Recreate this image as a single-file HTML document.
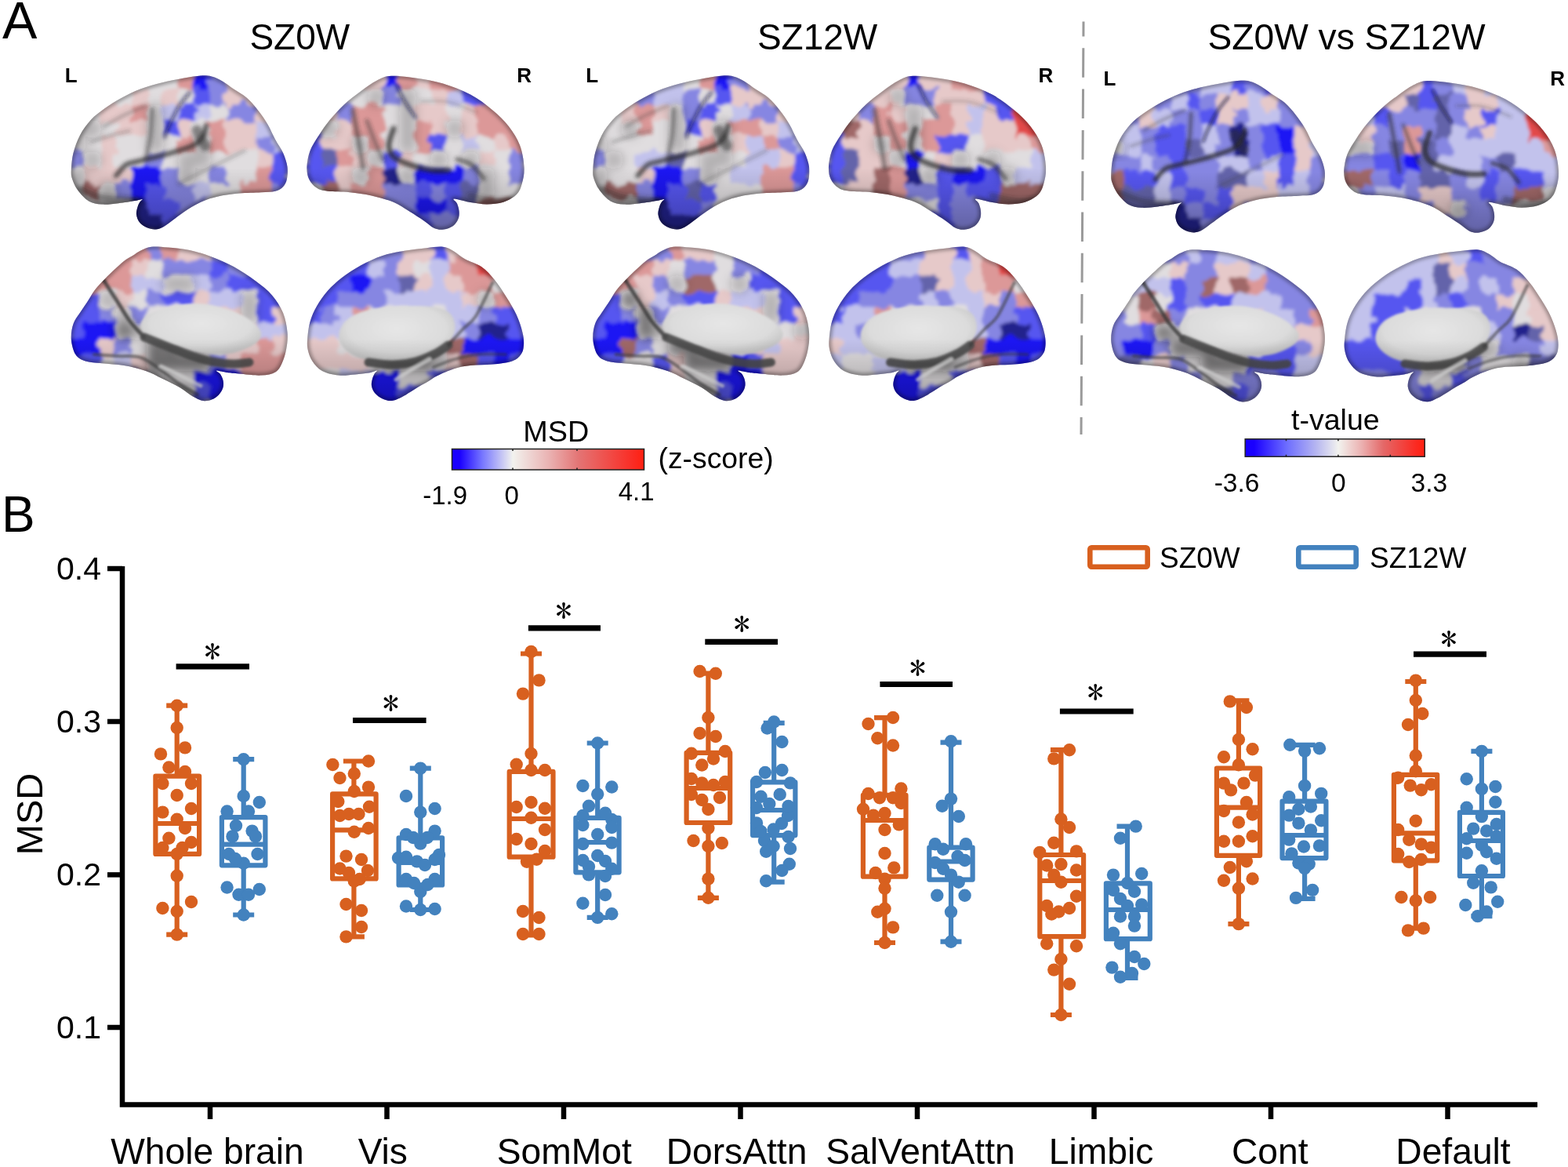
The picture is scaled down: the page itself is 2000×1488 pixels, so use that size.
<!DOCTYPE html>
<html><head><meta charset="utf-8"><title>MSD figure</title>
<style>
html,body{margin:0;padding:0;background:#fff;width:2000px;height:1488px;overflow:hidden}
svg{display:block}
text{font-family:"Liberation Sans",Arial,sans-serif;fill:#000}
</style></head><body>
<svg width="2000" height="1488" viewBox="0 0 2000 1488">
<rect width="2000" height="1488" fill="#fff"/>
<defs>
<clipPath id="cLL"><path d="M90.8 217.2C91.0 211.6 91.7 202.3 93.6 194.8C95.5 187.3 98.3 179.4 102.0 172.4C105.7 165.4 110.9 158.4 116.0 152.8C121.1 147.2 126.3 143.5 132.8 138.8C139.3 134.1 147.5 129.0 155.2 124.8C162.9 120.6 170.4 116.9 179.0 113.6C187.6 110.3 197.7 107.5 207.0 105.2C216.3 102.9 226.8 101.0 235.0 99.6C243.2 98.1 250.2 96.8 256.0 96.5C261.8 96.2 265.3 96.3 270.0 97.5C274.7 98.7 279.3 101.1 284.0 103.8C288.7 106.5 292.9 110.1 298.0 113.6C303.1 117.1 309.7 120.4 314.8 124.8C319.9 129.2 324.4 134.6 328.8 140.2C333.2 145.8 337.7 152.1 341.4 158.4C345.1 164.7 347.9 171.9 351.2 178.0C354.5 184.1 358.4 189.0 361.0 194.8C363.6 200.6 365.8 207.4 366.6 213.0C367.4 218.6 366.8 224.2 365.9 228.4C365.0 232.6 363.4 235.6 361.0 238.2C358.6 240.8 355.9 242.6 351.2 243.8C346.5 245.0 340.7 244.7 333.0 245.2C325.3 245.7 314.3 245.7 305.0 246.6C295.7 247.5 285.2 248.9 277.0 250.8C268.8 252.7 263.0 254.6 256.0 257.8C249.0 261.0 241.0 266.1 235.0 270.0C229.0 273.9 224.5 277.8 220.0 281.0C215.5 284.2 211.7 287.6 208.0 289.5C204.3 291.4 201.5 292.4 198.0 292.5C194.5 292.6 190.3 291.5 187.0 290.0C183.7 288.5 180.2 286.2 178.0 283.5C175.8 280.8 174.4 276.8 174.0 273.5C173.6 270.2 174.8 266.7 175.5 264.0C176.2 261.3 177.5 259.2 178.5 257.5C179.5 255.8 182.6 254.2 181.5 254.0C180.4 253.8 177.1 255.1 172.0 256.0C166.9 256.9 158.0 258.4 151.0 259.2C144.0 260.0 136.3 261.1 130.0 260.6C123.7 260.1 118.3 259.4 113.2 256.4C108.1 253.4 102.7 247.1 99.2 242.4C95.7 237.7 93.6 232.6 92.2 228.4C90.8 224.2 90.6 222.8 90.8 217.2Z"/></clipPath>
<path id="sLL" d="M90.8 217.2C91.0 211.6 91.7 202.3 93.6 194.8C95.5 187.3 98.3 179.4 102.0 172.4C105.7 165.4 110.9 158.4 116.0 152.8C121.1 147.2 126.3 143.5 132.8 138.8C139.3 134.1 147.5 129.0 155.2 124.8C162.9 120.6 170.4 116.9 179.0 113.6C187.6 110.3 197.7 107.5 207.0 105.2C216.3 102.9 226.8 101.0 235.0 99.6C243.2 98.1 250.2 96.8 256.0 96.5C261.8 96.2 265.3 96.3 270.0 97.5C274.7 98.7 279.3 101.1 284.0 103.8C288.7 106.5 292.9 110.1 298.0 113.6C303.1 117.1 309.7 120.4 314.8 124.8C319.9 129.2 324.4 134.6 328.8 140.2C333.2 145.8 337.7 152.1 341.4 158.4C345.1 164.7 347.9 171.9 351.2 178.0C354.5 184.1 358.4 189.0 361.0 194.8C363.6 200.6 365.8 207.4 366.6 213.0C367.4 218.6 366.8 224.2 365.9 228.4C365.0 232.6 363.4 235.6 361.0 238.2C358.6 240.8 355.9 242.6 351.2 243.8C346.5 245.0 340.7 244.7 333.0 245.2C325.3 245.7 314.3 245.7 305.0 246.6C295.7 247.5 285.2 248.9 277.0 250.8C268.8 252.7 263.0 254.6 256.0 257.8C249.0 261.0 241.0 266.1 235.0 270.0C229.0 273.9 224.5 277.8 220.0 281.0C215.5 284.2 211.7 287.6 208.0 289.5C204.3 291.4 201.5 292.4 198.0 292.5C194.5 292.6 190.3 291.5 187.0 290.0C183.7 288.5 180.2 286.2 178.0 283.5C175.8 280.8 174.4 276.8 174.0 273.5C173.6 270.2 174.8 266.7 175.5 264.0C176.2 261.3 177.5 259.2 178.5 257.5C179.5 255.8 182.6 254.2 181.5 254.0C180.4 253.8 177.1 255.1 172.0 256.0C166.9 256.9 158.0 258.4 151.0 259.2C144.0 260.0 136.3 261.1 130.0 260.6C123.7 260.1 118.3 259.4 113.2 256.4C108.1 253.4 102.7 247.1 99.2 242.4C95.7 237.7 93.6 232.6 92.2 228.4C90.8 224.2 90.6 222.8 90.8 217.2Z"/>
<clipPath id="cLR"><path d="M391.4 213.0C391.6 206.9 393.0 198.8 395.6 192.0C398.2 185.2 402.6 178.9 406.8 172.4C411.0 165.9 415.4 159.3 420.8 152.8C426.2 146.3 432.5 139.3 439.0 133.2C445.5 127.1 453.0 121.5 460.0 116.4C467.0 111.3 474.5 105.7 481.0 102.4C487.5 99.1 491.0 97.3 499.2 96.8C507.4 96.3 519.0 98.0 530.0 99.6C541.0 101.2 553.3 103.1 565.0 106.6C576.7 110.1 589.5 115.0 600.0 120.6C610.5 126.2 619.8 133.4 628.0 140.2C636.2 147.0 643.2 153.7 649.0 161.2C654.8 168.7 659.7 176.4 663.0 185.0C666.3 193.6 668.1 204.8 668.6 213.0C669.1 221.2 667.4 228.2 665.8 234.0C664.2 239.8 662.8 244.0 658.8 248.0C654.8 252.0 648.3 255.7 642.0 257.8C635.7 259.9 628.0 260.4 621.0 260.4C614.0 260.4 607.0 259.1 600.0 258.0C593.0 256.9 581.8 253.2 579.0 253.5C576.2 253.8 581.9 256.9 583.0 259.5C584.1 262.1 585.2 265.8 585.5 269.0C585.8 272.2 585.8 275.8 584.5 279.0C583.2 282.2 581.1 285.8 578.0 288.0C574.9 290.2 570.0 292.0 566.0 292.5C562.0 293.0 558.3 292.9 554.0 291.0C549.7 289.1 545.2 284.5 540.0 281.0C534.8 277.5 529.3 273.9 523.0 270.0C516.7 266.1 510.2 261.2 502.0 257.8C493.8 254.4 483.3 251.5 474.0 249.4C464.7 247.3 455.3 246.1 446.0 245.2C436.7 244.3 425.0 244.7 418.0 243.8C411.0 242.9 408.0 242.2 404.0 239.6C400.0 237.0 396.3 232.8 394.2 228.4C392.1 224.0 391.2 219.1 391.4 213.0Z"/></clipPath>
<path id="sLR" d="M391.4 213.0C391.6 206.9 393.0 198.8 395.6 192.0C398.2 185.2 402.6 178.9 406.8 172.4C411.0 165.9 415.4 159.3 420.8 152.8C426.2 146.3 432.5 139.3 439.0 133.2C445.5 127.1 453.0 121.5 460.0 116.4C467.0 111.3 474.5 105.7 481.0 102.4C487.5 99.1 491.0 97.3 499.2 96.8C507.4 96.3 519.0 98.0 530.0 99.6C541.0 101.2 553.3 103.1 565.0 106.6C576.7 110.1 589.5 115.0 600.0 120.6C610.5 126.2 619.8 133.4 628.0 140.2C636.2 147.0 643.2 153.7 649.0 161.2C654.8 168.7 659.7 176.4 663.0 185.0C666.3 193.6 668.1 204.8 668.6 213.0C669.1 221.2 667.4 228.2 665.8 234.0C664.2 239.8 662.8 244.0 658.8 248.0C654.8 252.0 648.3 255.7 642.0 257.8C635.7 259.9 628.0 260.4 621.0 260.4C614.0 260.4 607.0 259.1 600.0 258.0C593.0 256.9 581.8 253.2 579.0 253.5C576.2 253.8 581.9 256.9 583.0 259.5C584.1 262.1 585.2 265.8 585.5 269.0C585.8 272.2 585.8 275.8 584.5 279.0C583.2 282.2 581.1 285.8 578.0 288.0C574.9 290.2 570.0 292.0 566.0 292.5C562.0 293.0 558.3 292.9 554.0 291.0C549.7 289.1 545.2 284.5 540.0 281.0C534.8 277.5 529.3 273.9 523.0 270.0C516.7 266.1 510.2 261.2 502.0 257.8C493.8 254.4 483.3 251.5 474.0 249.4C464.7 247.3 455.3 246.1 446.0 245.2C436.7 244.3 425.0 244.7 418.0 243.8C411.0 242.9 408.0 242.2 404.0 239.6C400.0 237.0 396.3 232.8 394.2 228.4C392.1 224.0 391.2 219.1 391.4 213.0Z"/>
<clipPath id="cML"><path d="M90.8 432.4C90.3 425.9 91.7 418.4 93.6 412.8C95.5 407.2 98.7 403.9 102.0 398.8C105.3 393.7 110.2 386.7 113.2 382.0C116.2 377.3 117.4 374.5 120.2 370.8C123.0 367.1 126.0 363.8 130.0 359.6C134.0 355.4 139.3 350.0 144.0 345.6C148.7 341.2 153.8 336.3 158.0 333.0C162.2 329.7 165.7 328.2 169.2 326.0C172.7 323.8 175.0 321.6 179.0 319.7C183.0 317.8 187.2 315.5 193.0 314.8C198.8 314.1 205.8 314.8 214.0 315.5C222.2 316.2 232.7 317.0 242.0 319.0C251.3 321.0 260.7 323.9 270.0 327.4C279.3 330.9 288.7 334.9 298.0 340.0C307.3 345.1 317.8 352.1 326.0 358.2C334.2 364.3 341.2 369.6 347.0 376.4C352.8 383.2 357.7 390.9 361.0 398.8C364.3 406.7 365.9 416.3 366.6 424.0C367.3 431.7 366.4 438.5 365.2 445.0C364.0 451.5 361.9 458.3 359.6 463.2C357.3 468.1 355.6 471.8 351.2 474.4C346.8 477.0 340.7 478.2 333.0 478.6C325.3 479.0 312.2 477.1 305.0 476.5C297.8 475.9 294.8 475.7 290.0 475.0C285.2 474.3 277.5 472.2 276.0 472.5C274.5 472.8 279.6 474.9 281.0 477.0C282.4 479.1 283.9 482.2 284.5 485.0C285.1 487.8 285.4 490.9 284.5 494.0C283.6 497.1 281.4 500.9 279.0 503.5C276.6 506.1 273.3 508.2 270.0 509.5C266.7 510.8 263.0 511.7 259.0 511.0C255.0 510.3 250.8 508.2 246.0 505.5C241.2 502.8 236.5 498.3 230.0 494.5C223.5 490.7 214.3 486.4 207.0 482.8C199.7 479.2 194.2 475.8 186.0 473.0C177.8 470.2 167.3 467.6 158.0 466.0C148.7 464.4 138.2 464.1 130.0 463.2C121.8 462.3 114.6 462.3 109.0 460.4C103.4 458.5 99.4 456.7 96.4 452.0C93.4 447.3 91.3 438.9 90.8 432.4Z"/></clipPath>
<path id="sML" d="M90.8 432.4C90.3 425.9 91.7 418.4 93.6 412.8C95.5 407.2 98.7 403.9 102.0 398.8C105.3 393.7 110.2 386.7 113.2 382.0C116.2 377.3 117.4 374.5 120.2 370.8C123.0 367.1 126.0 363.8 130.0 359.6C134.0 355.4 139.3 350.0 144.0 345.6C148.7 341.2 153.8 336.3 158.0 333.0C162.2 329.7 165.7 328.2 169.2 326.0C172.7 323.8 175.0 321.6 179.0 319.7C183.0 317.8 187.2 315.5 193.0 314.8C198.8 314.1 205.8 314.8 214.0 315.5C222.2 316.2 232.7 317.0 242.0 319.0C251.3 321.0 260.7 323.9 270.0 327.4C279.3 330.9 288.7 334.9 298.0 340.0C307.3 345.1 317.8 352.1 326.0 358.2C334.2 364.3 341.2 369.6 347.0 376.4C352.8 383.2 357.7 390.9 361.0 398.8C364.3 406.7 365.9 416.3 366.6 424.0C367.3 431.7 366.4 438.5 365.2 445.0C364.0 451.5 361.9 458.3 359.6 463.2C357.3 468.1 355.6 471.8 351.2 474.4C346.8 477.0 340.7 478.2 333.0 478.6C325.3 479.0 312.2 477.1 305.0 476.5C297.8 475.9 294.8 475.7 290.0 475.0C285.2 474.3 277.5 472.2 276.0 472.5C274.5 472.8 279.6 474.9 281.0 477.0C282.4 479.1 283.9 482.2 284.5 485.0C285.1 487.8 285.4 490.9 284.5 494.0C283.6 497.1 281.4 500.9 279.0 503.5C276.6 506.1 273.3 508.2 270.0 509.5C266.7 510.8 263.0 511.7 259.0 511.0C255.0 510.3 250.8 508.2 246.0 505.5C241.2 502.8 236.5 498.3 230.0 494.5C223.5 490.7 214.3 486.4 207.0 482.8C199.7 479.2 194.2 475.8 186.0 473.0C177.8 470.2 167.3 467.6 158.0 466.0C148.7 464.4 138.2 464.1 130.0 463.2C121.8 462.3 114.6 462.3 109.0 460.4C103.4 458.5 99.4 456.7 96.4 452.0C93.4 447.3 91.3 438.9 90.8 432.4Z"/>
<clipPath id="cMR"><path d="M392.1 432.4C392.6 426.3 393.6 417.0 395.6 410.0C397.6 403.0 400.3 396.9 404.0 390.4C407.7 383.9 412.6 376.9 418.0 370.8C423.4 364.7 429.2 359.4 436.2 354.0C443.2 348.6 451.4 343.3 460.0 338.6C468.6 333.9 478.7 329.1 488.0 326.0C497.3 322.9 506.7 321.3 516.0 319.7C525.3 318.1 535.8 317.0 544.0 316.2C552.2 315.4 559.2 314.1 565.0 314.8C570.8 315.5 574.3 317.8 579.0 320.4C583.7 323.0 587.2 326.9 593.0 330.2C598.8 333.5 607.7 335.6 614.0 340.0C620.3 344.4 625.4 350.3 630.8 356.8C636.2 363.3 641.5 371.7 646.2 379.2C650.9 386.7 655.4 394.1 658.8 401.6C662.2 409.1 665.0 417.5 666.5 424.0C668.0 430.5 668.4 436.1 668.0 440.8C667.6 445.5 666.9 448.7 664.4 452.0C661.9 455.3 659.3 458.3 653.2 460.4C647.1 462.5 636.9 463.7 628.0 464.6C619.1 465.5 608.2 465.1 600.0 466.0C591.8 466.9 586.0 468.0 579.0 470.2C572.0 472.4 563.7 476.2 558.0 479.0C552.3 481.8 548.8 484.8 545.0 487.0C541.2 489.2 538.7 490.3 535.0 492.5C531.3 494.7 526.7 497.8 523.0 500.0C519.3 502.2 516.8 504.2 513.0 506.0C509.2 507.8 504.2 510.6 500.0 511.0C495.8 511.4 491.7 510.2 488.0 508.5C484.3 506.8 480.3 503.8 478.0 501.0C475.7 498.2 474.5 495.0 474.0 492.0C473.5 489.0 474.3 485.7 475.0 483.0C475.7 480.3 477.0 477.8 478.0 476.0C479.0 474.2 482.3 472.6 481.0 472.5C479.7 472.4 474.7 474.7 470.0 475.5C465.3 476.3 459.3 477.0 453.0 477.5C446.7 478.0 439.0 479.4 432.0 478.6C425.0 477.9 416.6 476.0 411.0 473.0C405.4 470.0 401.4 464.8 398.4 460.4C395.4 456.0 393.9 451.1 392.8 446.4C391.8 441.7 391.6 438.5 392.1 432.4Z"/></clipPath>
<path id="sMR" d="M392.1 432.4C392.6 426.3 393.6 417.0 395.6 410.0C397.6 403.0 400.3 396.9 404.0 390.4C407.7 383.9 412.6 376.9 418.0 370.8C423.4 364.7 429.2 359.4 436.2 354.0C443.2 348.6 451.4 343.3 460.0 338.6C468.6 333.9 478.7 329.1 488.0 326.0C497.3 322.9 506.7 321.3 516.0 319.7C525.3 318.1 535.8 317.0 544.0 316.2C552.2 315.4 559.2 314.1 565.0 314.8C570.8 315.5 574.3 317.8 579.0 320.4C583.7 323.0 587.2 326.9 593.0 330.2C598.8 333.5 607.7 335.6 614.0 340.0C620.3 344.4 625.4 350.3 630.8 356.8C636.2 363.3 641.5 371.7 646.2 379.2C650.9 386.7 655.4 394.1 658.8 401.6C662.2 409.1 665.0 417.5 666.5 424.0C668.0 430.5 668.4 436.1 668.0 440.8C667.6 445.5 666.9 448.7 664.4 452.0C661.9 455.3 659.3 458.3 653.2 460.4C647.1 462.5 636.9 463.7 628.0 464.6C619.1 465.5 608.2 465.1 600.0 466.0C591.8 466.9 586.0 468.0 579.0 470.2C572.0 472.4 563.7 476.2 558.0 479.0C552.3 481.8 548.8 484.8 545.0 487.0C541.2 489.2 538.7 490.3 535.0 492.5C531.3 494.7 526.7 497.8 523.0 500.0C519.3 502.2 516.8 504.2 513.0 506.0C509.2 507.8 504.2 510.6 500.0 511.0C495.8 511.4 491.7 510.2 488.0 508.5C484.3 506.8 480.3 503.8 478.0 501.0C475.7 498.2 474.5 495.0 474.0 492.0C473.5 489.0 474.3 485.7 475.0 483.0C475.7 480.3 477.0 477.8 478.0 476.0C479.0 474.2 482.3 472.6 481.0 472.5C479.7 472.4 474.7 474.7 470.0 475.5C465.3 476.3 459.3 477.0 453.0 477.5C446.7 478.0 439.0 479.4 432.0 478.6C425.0 477.9 416.6 476.0 411.0 473.0C405.4 470.0 401.4 464.8 398.4 460.4C395.4 456.0 393.9 451.1 392.8 446.4C391.8 441.7 391.6 438.5 392.1 432.4Z"/>
<path id="wML" d="M180.0 414.0C180.3 409.8 182.2 405.7 188.0 402.0C193.8 398.3 206.0 394.5 215.0 392.0C224.0 389.5 232.8 387.5 242.0 387.0C251.2 386.5 260.7 387.3 270.0 389.0C279.3 390.7 289.7 393.7 298.0 397.0C306.3 400.3 314.2 404.5 320.0 409.0C325.8 413.5 332.0 419.2 333.0 424.0C334.0 428.8 331.8 433.7 326.0 438.0C320.2 442.3 307.3 447.8 298.0 450.0C288.7 452.2 279.3 451.7 270.0 451.0C260.7 450.3 252.0 448.3 242.0 446.0C232.0 443.7 219.3 440.2 210.0 437.0C200.7 433.8 191.0 430.8 186.0 427.0C181.0 423.2 179.7 418.2 180.0 414.0Z"/>
<path id="wMR" d="M432.0 428.0C432.3 422.5 435.3 415.0 440.0 410.0C444.7 405.0 451.7 401.0 460.0 398.0C468.3 395.0 480.0 393.3 490.0 392.0C500.0 390.7 510.0 390.2 520.0 390.0C530.0 389.8 541.3 389.7 550.0 391.0C558.7 392.3 567.0 394.5 572.0 398.0C577.0 401.5 579.0 407.0 580.0 412.0C581.0 417.0 580.3 422.8 578.0 428.0C575.7 433.2 571.5 438.5 566.0 443.0C560.5 447.5 553.5 451.8 545.0 455.0C536.5 458.2 525.8 461.0 515.0 462.0C504.2 463.0 490.0 462.2 480.0 461.0C470.0 459.8 462.0 458.0 455.0 455.0C448.0 452.0 441.8 447.5 438.0 443.0C434.2 438.5 431.7 433.5 432.0 428.0Z"/>
<filter id="bl" x="-10%" y="-10%" width="120%" height="120%"><feTurbulence type="fractalNoise" baseFrequency="0.06" numOctaves="2" seed="3" result="t"/><feDisplacementMap in="SourceGraphic" in2="t" scale="18" xChannelSelector="R" yChannelSelector="G" result="d"/><feGaussianBlur in="d" stdDeviation="2.2"/></filter>
<filter id="bl2" x="-10%" y="-10%" width="120%" height="120%"><feGaussianBlur stdDeviation="2.5"/></filter>
<filter id="bl3" x="-20%" y="-20%" width="140%" height="140%"><feGaussianBlur stdDeviation="1.6"/></filter><filter id="bl4" x="-20%" y="-20%" width="140%" height="140%"><feGaussianBlur stdDeviation="2.4"/></filter>
<radialGradient id="mwg" cx="0.5" cy="0.4" r="0.6"><stop offset="0" stop-color="#e6e6e6"/><stop offset="0.7" stop-color="#dcdcdc"/><stop offset="1" stop-color="#c4c4c4"/></radialGradient>
<linearGradient id="shd" x1="0" y1="0" x2="0" y2="1"><stop offset="0" stop-color="#000" stop-opacity="0"/><stop offset="0.6" stop-color="#000" stop-opacity="0"/><stop offset="1" stop-color="#000" stop-opacity="0.28"/></linearGradient>
<filter id="bl5" x="-20%" y="-20%" width="140%" height="140%"><feGaussianBlur stdDeviation="6.5"/></filter>
</defs>
<g transform="translate(0 0)">
<g clip-path="url(#cLL)">
<rect x="88" y="94" width="280" height="200" fill="#d8d2d4"/>
<g filter="url(#bl)"><rect x="87.5" y="93.5" width="141" height="21" fill="#e0dddf"/><rect x="227.5" y="93.5" width="21" height="21" fill="#dc9898"/><rect x="247.5" y="93.5" width="21" height="21" fill="#1c16f4"/><rect x="267.5" y="93.5" width="21" height="21" fill="#8686e2"/><rect x="287.5" y="93.5" width="81" height="21" fill="#e6c9c9"/><rect x="87.5" y="113.5" width="81" height="21" fill="#e0dddf"/><rect x="167.5" y="113.5" width="21" height="21" fill="#e6c9c9"/><rect x="187.5" y="113.5" width="21" height="21" fill="#e0dddf"/><rect x="207.5" y="113.5" width="21" height="21" fill="#e6c9c9"/><rect x="227.5" y="113.5" width="21" height="21" fill="#e0dddf"/><rect x="247.5" y="113.5" width="21" height="21" fill="#5656f0"/><rect x="267.5" y="113.5" width="21" height="21" fill="#8686e2"/><rect x="287.5" y="113.5" width="81" height="21" fill="#e6c9c9"/><rect x="87.5" y="133.5" width="41" height="21" fill="#e0dddf"/><rect x="127.5" y="133.5" width="41" height="21" fill="#e6c9c9"/><rect x="167.5" y="133.5" width="21" height="21" fill="#dc9898"/><rect x="187.5" y="133.5" width="21" height="21" fill="#e0dddf"/><rect x="207.5" y="133.5" width="21" height="21" fill="#c2c2ec"/><rect x="227.5" y="133.5" width="21" height="21" fill="#5656f0"/><rect x="247.5" y="133.5" width="21" height="21" fill="#c2c2ec"/><rect x="267.5" y="133.5" width="21" height="21" fill="#e0dddf"/><rect x="287.5" y="133.5" width="41" height="21" fill="#8686e2"/><rect x="327.5" y="133.5" width="41" height="21" fill="#e6c9c9"/><rect x="87.5" y="153.5" width="61" height="21" fill="#e0dddf"/><rect x="147.5" y="153.5" width="41" height="21" fill="#e6c9c9"/><rect x="187.5" y="153.5" width="21" height="21" fill="#e0dddf"/><rect x="207.5" y="153.5" width="21" height="21" fill="#5656f0"/><rect x="227.5" y="153.5" width="21" height="21" fill="#e6c9c9"/><rect x="247.5" y="153.5" width="21" height="21" fill="#e0dddf"/><rect x="267.5" y="153.5" width="21" height="21" fill="#dc9898"/><rect x="287.5" y="153.5" width="41" height="21" fill="#e6c9c9"/><rect x="327.5" y="153.5" width="41" height="21" fill="#c2c2ec"/><rect x="87.5" y="173.5" width="41" height="21" fill="#e0dddf"/><rect x="127.5" y="173.5" width="21" height="21" fill="#e6c9c9"/><rect x="147.5" y="173.5" width="81" height="21" fill="#e0dddf"/><rect x="227.5" y="173.5" width="21" height="21" fill="#dc9898"/><rect x="247.5" y="173.5" width="21" height="21" fill="#e0dddf"/><rect x="267.5" y="173.5" width="21" height="21" fill="#dc9898"/><rect x="287.5" y="173.5" width="41" height="21" fill="#e6c9c9"/><rect x="327.5" y="173.5" width="21" height="21" fill="#8686e2"/><rect x="347.5" y="173.5" width="21" height="21" fill="#c2c2ec"/><rect x="87.5" y="193.5" width="21" height="21" fill="#8686e2"/><rect x="107.5" y="193.5" width="21" height="21" fill="#e0dddf"/><rect x="127.5" y="193.5" width="21" height="21" fill="#e6c9c9"/><rect x="147.5" y="193.5" width="41" height="21" fill="#e0dddf"/><rect x="187.5" y="193.5" width="21" height="21" fill="#8686e2"/><rect x="207.5" y="193.5" width="121" height="21" fill="#e0dddf"/><rect x="327.5" y="193.5" width="21" height="21" fill="#e6c9c9"/><rect x="347.5" y="193.5" width="21" height="21" fill="#5656f0"/><rect x="87.5" y="213.5" width="21" height="21" fill="#e0dddf"/><rect x="107.5" y="213.5" width="61" height="21" fill="#e6c9c9"/><rect x="167.5" y="213.5" width="41" height="21" fill="#1c16f4"/><rect x="207.5" y="213.5" width="21" height="21" fill="#8686e2"/><rect x="227.5" y="213.5" width="41" height="21" fill="#e0dddf"/><rect x="267.5" y="213.5" width="21" height="21" fill="#8686e2"/><rect x="287.5" y="213.5" width="41" height="21" fill="#e0dddf"/><rect x="327.5" y="213.5" width="21" height="21" fill="#dc9898"/><rect x="347.5" y="213.5" width="21" height="21" fill="#5656f0"/><rect x="87.5" y="233.5" width="21" height="21" fill="#e0dddf"/><rect x="107.5" y="233.5" width="21" height="21" fill="#a06868"/><rect x="127.5" y="233.5" width="21" height="21" fill="#e0dddf"/><rect x="147.5" y="233.5" width="21" height="21" fill="#8686e2"/><rect x="167.5" y="233.5" width="21" height="21" fill="#1c16f4"/><rect x="187.5" y="233.5" width="21" height="21" fill="#5656f0"/><rect x="207.5" y="233.5" width="41" height="21" fill="#8686e2"/><rect x="247.5" y="233.5" width="21" height="21" fill="#c2c2ec"/><rect x="267.5" y="233.5" width="41" height="21" fill="#e0dddf"/><rect x="307.5" y="233.5" width="41" height="21" fill="#dc9898"/><rect x="347.5" y="233.5" width="21" height="21" fill="#8686e2"/><rect x="87.5" y="253.5" width="81" height="21" fill="#e0dddf"/><rect x="167.5" y="253.5" width="21" height="21" fill="#24248c"/><rect x="187.5" y="253.5" width="41" height="21" fill="#5656f0"/><rect x="227.5" y="253.5" width="41" height="21" fill="#8686e2"/><rect x="267.5" y="253.5" width="41" height="21" fill="#e0dddf"/><rect x="307.5" y="253.5" width="41" height="21" fill="#dc9898"/><rect x="347.5" y="253.5" width="21" height="21" fill="#8686e2"/><rect x="87.5" y="273.5" width="61" height="21" fill="#e0dddf"/><rect x="147.5" y="273.5" width="61" height="21" fill="#24248c"/><rect x="207.5" y="273.5" width="61" height="21" fill="#5656f0"/><rect x="267.5" y="273.5" width="41" height="21" fill="#e0dddf"/><rect x="307.5" y="273.5" width="41" height="21" fill="#dc9898"/><rect x="347.5" y="273.5" width="21" height="21" fill="#8686e2"/></g>
<g fill="#1a1a1a" filter="url(#bl5)"><circle cx="198" cy="144" r="12" fill-opacity="0.22"/><circle cx="98" cy="164" r="12" fill-opacity="0.22"/><circle cx="118" cy="164" r="12" fill-opacity="0.22"/><circle cx="198" cy="164" r="12" fill-opacity="0.22"/><circle cx="98" cy="184" r="12" fill-opacity="0.22"/><circle cx="198" cy="184" r="12" fill-opacity="0.22"/><circle cx="258" cy="184" r="12" fill-opacity="0.22"/><circle cx="118" cy="204" r="12" fill-opacity="0.22"/><circle cx="238" cy="204" r="12" fill-opacity="0.22"/><circle cx="258" cy="204" r="12" fill-opacity="0.22"/><circle cx="98" cy="224" r="12" fill-opacity="0.22"/><circle cx="238" cy="224" r="12" fill-opacity="0.22"/><circle cx="98" cy="244" r="12" fill-opacity="0.22"/><circle cx="138" cy="244" r="12" fill-opacity="0.22"/><circle cx="98" cy="264" r="12" fill-opacity="0.22"/><circle cx="118" cy="264" r="12" fill-opacity="0.22"/><circle cx="138" cy="264" r="12" fill-opacity="0.22"/><circle cx="158" cy="264" r="12" fill-opacity="0.22"/><circle cx="278" cy="264" r="12" fill-opacity="0.22"/><circle cx="298" cy="264" r="12" fill-opacity="0.22"/><circle cx="98" cy="284" r="12" fill-opacity="0.22"/><circle cx="118" cy="284" r="12" fill-opacity="0.22"/><circle cx="138" cy="284" r="12" fill-opacity="0.22"/><circle cx="278" cy="284" r="12" fill-opacity="0.22"/><circle cx="298" cy="284" r="12" fill-opacity="0.22"/></g>
<g fill="none" stroke-linecap="round" filter="url(#bl4)"><path d="M148.0 224.0C150.2 221.7 156.5 213.0 161.0 210.0C165.5 207.0 168.5 207.7 175.0 206.0C181.5 204.3 191.2 202.3 200.0 200.0C208.8 197.7 219.8 194.7 228.0 192.0C236.2 189.3 243.7 187.3 249.0 184.0C254.3 180.7 257.7 176.0 260.0 172.0C262.3 168.0 262.5 162.0 263.0 160.0" stroke="#2a282a" stroke-opacity="0.75" stroke-width="6"/><path d="M251.0 166.0C252.0 168.0 255.2 174.7 257.0 178.0C258.8 181.3 261.2 184.7 262.0 186.0" stroke="#2a282a" stroke-opacity="0.5" stroke-width="13"/><path d="M194.0 139.0C193.7 144.5 193.3 161.3 192.0 172.0C190.7 182.7 187.0 197.8 186.0 203.0" stroke="#2e2c2e" stroke-opacity="0.5" stroke-width="5"/><path d="M242.0 118.0C239.7 121.0 232.7 128.3 228.0 136.0C223.3 143.7 217.0 157.5 214.0 164.0C211.0 170.5 210.7 173.2 210.0 175.0" stroke="#141440" stroke-opacity="0.7" stroke-width="3.5"/><path d="M133.0 161.0C137.2 158.7 149.2 151.3 158.0 147.0C166.8 142.7 181.3 137.0 186.0 135.0" stroke="#3c3a3c" stroke-opacity="0.35" stroke-width="4"/><path d="M116.0 181.0C120.7 179.5 135.8 174.3 144.0 172.0C152.2 169.7 161.5 167.8 165.0 167.0" stroke="#3c3a3c" stroke-opacity="0.3" stroke-width="4"/><path d="M228.0 234.0C235.0 230.5 256.0 220.0 270.0 213.0C284.0 206.0 305.0 195.5 312.0 192.0" stroke="#3c3a3c" stroke-opacity="0.3" stroke-width="4"/><path d="M102.0 241.0C106.7 242.8 118.3 249.7 130.0 252.0C141.7 254.3 165.0 254.5 172.0 255.0" stroke="#2e2c2e" stroke-opacity="0.35" stroke-width="8"/></g>
<rect x="88" y="94" width="280" height="200" fill="url(#shd)"/>
<use href="#sLL" fill="none" stroke="#000" stroke-opacity="0.4" stroke-width="5" filter="url(#bl2)"/>
</g>
<g clip-path="url(#cLR)">
<rect x="390" y="94" width="280" height="200" fill="#d8d2d4"/>
<g filter="url(#bl)"><rect x="389.5" y="93.5" width="101" height="21" fill="#e6c9c9"/><rect x="489.5" y="93.5" width="21" height="21" fill="#1c16f4"/><rect x="509.5" y="93.5" width="21" height="21" fill="#dc9898"/><rect x="529.5" y="93.5" width="21" height="21" fill="#e6c9c9"/><rect x="549.5" y="93.5" width="61" height="21" fill="#dc9898"/><rect x="609.5" y="93.5" width="61" height="21" fill="#5656f0"/><rect x="389.5" y="113.5" width="41" height="21" fill="#e6c9c9"/><rect x="429.5" y="113.5" width="61" height="21" fill="#e0dddf"/><rect x="489.5" y="113.5" width="21" height="21" fill="#8686e2"/><rect x="509.5" y="113.5" width="41" height="21" fill="#e0dddf"/><rect x="549.5" y="113.5" width="21" height="21" fill="#e6c9c9"/><rect x="569.5" y="113.5" width="21" height="21" fill="#c2c2ec"/><rect x="589.5" y="113.5" width="81" height="21" fill="#5656f0"/><rect x="389.5" y="133.5" width="41" height="21" fill="#e6c9c9"/><rect x="429.5" y="133.5" width="21" height="21" fill="#8686e2"/><rect x="449.5" y="133.5" width="41" height="21" fill="#dc9898"/><rect x="489.5" y="133.5" width="41" height="21" fill="#e0dddf"/><rect x="529.5" y="133.5" width="41" height="21" fill="#e6c9c9"/><rect x="569.5" y="133.5" width="21" height="21" fill="#e0dddf"/><rect x="589.5" y="133.5" width="21" height="21" fill="#e6c9c9"/><rect x="609.5" y="133.5" width="61" height="21" fill="#dc9898"/><rect x="389.5" y="153.5" width="41" height="21" fill="#e0dddf"/><rect x="429.5" y="153.5" width="21" height="21" fill="#e6c9c9"/><rect x="449.5" y="153.5" width="41" height="21" fill="#dc9898"/><rect x="489.5" y="153.5" width="41" height="21" fill="#e0dddf"/><rect x="529.5" y="153.5" width="21" height="21" fill="#dc9898"/><rect x="549.5" y="153.5" width="21" height="21" fill="#e6c9c9"/><rect x="569.5" y="153.5" width="21" height="21" fill="#e0dddf"/><rect x="589.5" y="153.5" width="21" height="21" fill="#e6c9c9"/><rect x="609.5" y="153.5" width="61" height="21" fill="#dc9898"/><rect x="389.5" y="173.5" width="21" height="21" fill="#5656f0"/><rect x="409.5" y="173.5" width="41" height="21" fill="#e6c9c9"/><rect x="449.5" y="173.5" width="21" height="21" fill="#e0dddf"/><rect x="469.5" y="173.5" width="21" height="21" fill="#dc9898"/><rect x="489.5" y="173.5" width="41" height="21" fill="#e0dddf"/><rect x="529.5" y="173.5" width="21" height="21" fill="#dc9898"/><rect x="549.5" y="173.5" width="21" height="21" fill="#5656f0"/><rect x="569.5" y="173.5" width="21" height="21" fill="#e0dddf"/><rect x="589.5" y="173.5" width="21" height="21" fill="#c2c2ec"/><rect x="609.5" y="173.5" width="21" height="21" fill="#e0dddf"/><rect x="629.5" y="173.5" width="21" height="21" fill="#e6c9c9"/><rect x="649.5" y="173.5" width="21" height="21" fill="#dc9898"/><rect x="389.5" y="193.5" width="21" height="21" fill="#5656f0"/><rect x="409.5" y="193.5" width="21" height="21" fill="#6464aa"/><rect x="429.5" y="193.5" width="21" height="21" fill="#dc9898"/><rect x="449.5" y="193.5" width="21" height="21" fill="#e6c9c9"/><rect x="469.5" y="193.5" width="21" height="21" fill="#e0dddf"/><rect x="489.5" y="193.5" width="21" height="21" fill="#5656f0"/><rect x="509.5" y="193.5" width="21" height="21" fill="#e6c9c9"/><rect x="529.5" y="193.5" width="81" height="21" fill="#e0dddf"/><rect x="609.5" y="193.5" width="21" height="21" fill="#e6c9c9"/><rect x="629.5" y="193.5" width="21" height="21" fill="#e0dddf"/><rect x="649.5" y="193.5" width="21" height="21" fill="#8686e2"/><rect x="389.5" y="213.5" width="41" height="21" fill="#5656f0"/><rect x="429.5" y="213.5" width="21" height="21" fill="#e6c9c9"/><rect x="449.5" y="213.5" width="21" height="21" fill="#e0dddf"/><rect x="469.5" y="213.5" width="21" height="21" fill="#dc9898"/><rect x="489.5" y="213.5" width="21" height="21" fill="#24248c"/><rect x="509.5" y="213.5" width="21" height="21" fill="#e0dddf"/><rect x="529.5" y="213.5" width="61" height="21" fill="#1c16f4"/><rect x="589.5" y="213.5" width="21" height="21" fill="#8686e2"/><rect x="609.5" y="213.5" width="41" height="21" fill="#e0dddf"/><rect x="649.5" y="213.5" width="21" height="21" fill="#8686e2"/><rect x="389.5" y="233.5" width="21" height="21" fill="#e0dddf"/><rect x="409.5" y="233.5" width="21" height="21" fill="#a06868"/><rect x="429.5" y="233.5" width="21" height="21" fill="#e6c9c9"/><rect x="449.5" y="233.5" width="41" height="21" fill="#dc9898"/><rect x="489.5" y="233.5" width="41" height="21" fill="#8686e2"/><rect x="529.5" y="233.5" width="21" height="21" fill="#5656f0"/><rect x="549.5" y="233.5" width="21" height="21" fill="#8686e2"/><rect x="569.5" y="233.5" width="21" height="21" fill="#5656f0"/><rect x="589.5" y="233.5" width="21" height="21" fill="#6464aa"/><rect x="609.5" y="233.5" width="61" height="21" fill="#e0dddf"/><rect x="389.5" y="253.5" width="21" height="21" fill="#e0dddf"/><rect x="409.5" y="253.5" width="21" height="21" fill="#a06868"/><rect x="429.5" y="253.5" width="61" height="21" fill="#6464aa"/><rect x="489.5" y="253.5" width="41" height="21" fill="#8686e2"/><rect x="529.5" y="253.5" width="41" height="21" fill="#1c16f4"/><rect x="569.5" y="253.5" width="21" height="21" fill="#5656f0"/><rect x="589.5" y="253.5" width="21" height="21" fill="#6464aa"/><rect x="609.5" y="253.5" width="61" height="21" fill="#a06868"/><rect x="389.5" y="273.5" width="21" height="21" fill="#e0dddf"/><rect x="409.5" y="273.5" width="21" height="21" fill="#a06868"/><rect x="429.5" y="273.5" width="61" height="21" fill="#6464aa"/><rect x="489.5" y="273.5" width="21" height="21" fill="#8686e2"/><rect x="509.5" y="273.5" width="41" height="21" fill="#5656f0"/><rect x="549.5" y="273.5" width="61" height="21" fill="#8686e2"/><rect x="609.5" y="273.5" width="61" height="21" fill="#a06868"/></g>
<g fill="#1a1a1a" filter="url(#bl5)"><circle cx="480" cy="124" r="12" fill-opacity="0.22"/><circle cx="520" cy="124" r="12" fill-opacity="0.22"/><circle cx="520" cy="144" r="12" fill-opacity="0.22"/><circle cx="400" cy="164" r="12" fill-opacity="0.22"/><circle cx="420" cy="164" r="12" fill-opacity="0.22"/><circle cx="520" cy="164" r="12" fill-opacity="0.22"/><circle cx="580" cy="164" r="12" fill-opacity="0.22"/><circle cx="460" cy="184" r="12" fill-opacity="0.22"/><circle cx="520" cy="184" r="12" fill-opacity="0.22"/><circle cx="480" cy="204" r="12" fill-opacity="0.22"/><circle cx="560" cy="204" r="12" fill-opacity="0.22"/><circle cx="600" cy="204" r="12" fill-opacity="0.22"/><circle cx="460" cy="224" r="12" fill-opacity="0.22"/><circle cx="520" cy="224" r="12" fill-opacity="0.22"/><circle cx="620" cy="224" r="12" fill-opacity="0.22"/><circle cx="400" cy="244" r="12" fill-opacity="0.22"/><circle cx="620" cy="244" r="12" fill-opacity="0.22"/><circle cx="400" cy="264" r="12" fill-opacity="0.22"/><circle cx="400" cy="284" r="12" fill-opacity="0.22"/></g>
<g fill="none" stroke-linecap="round" filter="url(#bl4)"><path d="M502.0 164.0C501.0 167.5 496.0 179.0 496.0 185.0C496.0 191.0 497.5 195.8 502.0 200.0C506.5 204.2 514.8 207.2 523.0 210.0C531.2 212.8 542.8 215.8 551.0 217.0C559.2 218.2 568.5 217.0 572.0 217.0" stroke="#2a282a" stroke-opacity="0.75" stroke-width="7"/><path d="M583.0 203.0C585.8 204.0 595.3 206.2 600.0 209.0C604.7 211.8 608.2 216.8 611.0 220.0C613.8 223.2 616.0 226.7 617.0 228.0" stroke="#2a282a" stroke-opacity="0.65" stroke-width="5"/><path d="M450.0 140.0C451.2 146.3 454.8 165.7 457.0 178.0C459.2 190.3 462.0 208.0 463.0 214.0" stroke="#2e2c2e" stroke-opacity="0.5" stroke-width="6"/><path d="M468.0 154.0C469.7 158.3 474.7 171.8 478.0 180.0C481.3 188.2 486.3 199.2 488.0 203.0" stroke="#2e2c2e" stroke-opacity="0.45" stroke-width="5"/><path d="M506.0 109.0C507.7 112.3 512.0 122.2 516.0 129.0C520.0 135.8 527.7 146.5 530.0 150.0" stroke="#141440" stroke-opacity="0.7" stroke-width="3.5"/><path d="M537.0 129.0C542.8 129.2 560.3 127.7 572.0 130.0C583.7 132.3 601.2 140.8 607.0 143.0" stroke="#3c3a3c" stroke-opacity="0.3" stroke-width="3"/><path d="M600.0 250.0C605.0 251.0 620.7 255.2 630.0 256.0C639.3 256.8 651.7 255.2 656.0 255.0" stroke="#2e2c2e" stroke-opacity="0.35" stroke-width="8"/></g>
<rect x="390" y="94" width="280" height="200" fill="url(#shd)"/>
<use href="#sLR" fill="none" stroke="#000" stroke-opacity="0.4" stroke-width="5" filter="url(#bl2)"/>
</g>
<g clip-path="url(#cML)">
<rect x="88" y="312" width="280" height="200" fill="#d8d2d4"/>
<g filter="url(#bl)"><rect x="107.5" y="311.5" width="81" height="21" fill="#dc9898"/><rect x="187.5" y="311.5" width="21" height="21" fill="#8686e2"/><rect x="207.5" y="311.5" width="21" height="21" fill="#dc9898"/><rect x="227.5" y="311.5" width="41" height="21" fill="#e6c9c9"/><rect x="267.5" y="311.5" width="101" height="21" fill="#8686e2"/><rect x="87.5" y="331.5" width="81" height="21" fill="#dc9898"/><rect x="167.5" y="331.5" width="21" height="21" fill="#e6c9c9"/><rect x="187.5" y="331.5" width="21" height="21" fill="#e0dddf"/><rect x="207.5" y="331.5" width="61" height="21" fill="#8686e2"/><rect x="267.5" y="331.5" width="21" height="21" fill="#5656f0"/><rect x="287.5" y="331.5" width="81" height="21" fill="#8686e2"/><rect x="87.5" y="351.5" width="81" height="21" fill="#dc9898"/><rect x="167.5" y="351.5" width="41" height="21" fill="#c2c2ec"/><rect x="207.5" y="351.5" width="41" height="21" fill="#e0dddf"/><rect x="247.5" y="351.5" width="21" height="21" fill="#c2c2ec"/><rect x="267.5" y="351.5" width="21" height="21" fill="#8686e2"/><rect x="287.5" y="351.5" width="81" height="21" fill="#5656f0"/><rect x="87.5" y="371.5" width="41" height="21" fill="#5656f0"/><rect x="127.5" y="371.5" width="21" height="21" fill="#e0dddf"/><rect x="147.5" y="371.5" width="21" height="21" fill="#e6c9c9"/><rect x="167.5" y="371.5" width="21" height="21" fill="#e0dddf"/><rect x="187.5" y="371.5" width="21" height="21" fill="#8686e2"/><rect x="207.5" y="371.5" width="41" height="21" fill="#5656f0"/><rect x="247.5" y="371.5" width="21" height="21" fill="#e6c9c9"/><rect x="267.5" y="371.5" width="41" height="21" fill="#c2c2ec"/><rect x="307.5" y="371.5" width="21" height="21" fill="#e0dddf"/><rect x="327.5" y="371.5" width="41" height="21" fill="#5656f0"/><rect x="87.5" y="391.5" width="41" height="21" fill="#5656f0"/><rect x="127.5" y="391.5" width="21" height="21" fill="#8686e2"/><rect x="147.5" y="391.5" width="21" height="21" fill="#e0dddf"/><rect x="167.5" y="391.5" width="21" height="21" fill="#8686e2"/><rect x="187.5" y="391.5" width="81" height="21" fill="#e0dddf"/><rect x="267.5" y="391.5" width="41" height="21" fill="#e6c9c9"/><rect x="307.5" y="391.5" width="21" height="21" fill="#e0dddf"/><rect x="327.5" y="391.5" width="21" height="21" fill="#5656f0"/><rect x="347.5" y="391.5" width="21" height="21" fill="#e6c9c9"/><rect x="87.5" y="411.5" width="21" height="21" fill="#5656f0"/><rect x="107.5" y="411.5" width="41" height="21" fill="#1c16f4"/><rect x="147.5" y="411.5" width="141" height="21" fill="#e0dddf"/><rect x="287.5" y="411.5" width="41" height="21" fill="#e6c9c9"/><rect x="327.5" y="411.5" width="41" height="21" fill="#c2c2ec"/><rect x="87.5" y="431.5" width="41" height="21" fill="#1c16f4"/><rect x="127.5" y="431.5" width="21" height="21" fill="#e6c9c9"/><rect x="147.5" y="431.5" width="21" height="21" fill="#8686e2"/><rect x="167.5" y="431.5" width="121" height="21" fill="#e0dddf"/><rect x="287.5" y="431.5" width="41" height="21" fill="#e6c9c9"/><rect x="327.5" y="431.5" width="21" height="21" fill="#dc9898"/><rect x="347.5" y="431.5" width="21" height="21" fill="#e6c9c9"/><rect x="87.5" y="451.5" width="41" height="21" fill="#5656f0"/><rect x="127.5" y="451.5" width="21" height="21" fill="#e0dddf"/><rect x="147.5" y="451.5" width="21" height="21" fill="#c2c2ec"/><rect x="167.5" y="451.5" width="21" height="21" fill="#e6c9c9"/><rect x="187.5" y="451.5" width="81" height="21" fill="#e0dddf"/><rect x="267.5" y="451.5" width="21" height="21" fill="#8686e2"/><rect x="287.5" y="451.5" width="21" height="21" fill="#e6c9c9"/><rect x="307.5" y="451.5" width="61" height="21" fill="#dc9898"/><rect x="87.5" y="471.5" width="41" height="21" fill="#5656f0"/><rect x="127.5" y="471.5" width="21" height="21" fill="#e0dddf"/><rect x="147.5" y="471.5" width="41" height="21" fill="#24248c"/><rect x="187.5" y="471.5" width="61" height="21" fill="#e0dddf"/><rect x="247.5" y="471.5" width="61" height="21" fill="#1c16f4"/><rect x="307.5" y="471.5" width="61" height="21" fill="#dc9898"/><rect x="87.5" y="491.5" width="41" height="21" fill="#5656f0"/><rect x="127.5" y="491.5" width="21" height="21" fill="#e0dddf"/><rect x="147.5" y="491.5" width="41" height="21" fill="#24248c"/><rect x="187.5" y="491.5" width="61" height="21" fill="#e0dddf"/><rect x="247.5" y="491.5" width="21" height="21" fill="#5656f0"/><rect x="267.5" y="491.5" width="61" height="21" fill="#1c16f4"/><rect x="327.5" y="491.5" width="41" height="21" fill="#dc9898"/></g>
<g fill="#1a1a1a" filter="url(#bl5)"><circle cx="218" cy="362" r="12" fill-opacity="0.22"/><circle cx="238" cy="362" r="12" fill-opacity="0.22"/><circle cx="138" cy="382" r="12" fill-opacity="0.22"/><circle cx="318" cy="382" r="12" fill-opacity="0.22"/><circle cx="158" cy="402" r="12" fill-opacity="0.22"/><circle cx="318" cy="402" r="12" fill-opacity="0.22"/><circle cx="158" cy="422" r="12" fill-opacity="0.5"/><circle cx="178" cy="422" r="12" fill-opacity="0.22"/><circle cx="198" cy="442" r="12" fill-opacity="0.5"/><circle cx="218" cy="442" r="12" fill-opacity="0.5"/><circle cx="238" cy="442" r="12" fill-opacity="0.22"/><circle cx="198" cy="462" r="12" fill-opacity="0.5"/><circle cx="218" cy="462" r="12" fill-opacity="0.5"/><circle cx="238" cy="462" r="12" fill-opacity="0.5"/><circle cx="258" cy="462" r="12" fill-opacity="0.5"/><circle cx="198" cy="482" r="12" fill-opacity="0.22"/><circle cx="198" cy="502" r="12" fill-opacity="0.22"/><circle cx="218" cy="502" r="12" fill-opacity="0.22"/><circle cx="238" cy="502" r="12" fill-opacity="0.22"/></g>
<use href="#wML" fill="url(#mwg)" filter="url(#bl3)"/>
<g fill="none" stroke-linecap="round" filter="url(#bl3)"><path d="M132.0 357.0C135.0 361.7 144.3 376.2 150.0 385.0C155.7 393.8 160.3 402.5 166.0 410.0C171.7 417.5 181.0 426.7 184.0 430.0" stroke="#3a3a3a" stroke-opacity="0.8" stroke-width="5"/><path d="M184.0 430.0C189.0 432.0 204.3 438.2 214.0 442.0C223.7 445.8 232.7 449.8 242.0 453.0C251.3 456.2 260.7 459.2 270.0 461.0C279.3 462.8 290.0 463.8 298.0 464.0C306.0 464.2 314.7 462.3 318.0 462.0" stroke="#4a4a4a" stroke-opacity="0.9" stroke-width="11"/><path d="M120.0 452.0C125.0 452.3 140.0 453.3 150.0 454.0C160.0 454.7 170.5 452.8 180.0 456.0C189.5 459.2 199.0 467.5 207.0 473.0C215.0 478.5 220.5 484.0 228.0 489.0C235.5 494.0 248.0 500.7 252.0 503.0" stroke="#3a3a3a" stroke-opacity="0.6" stroke-width="4"/><path d="M205.0 467.0C209.2 469.0 221.5 474.8 230.0 479.0C238.5 483.2 251.7 489.8 256.0 492.0" stroke="#f6f6f6" stroke-opacity="0.7" stroke-width="5"/></g>
<rect x="88" y="312" width="280" height="200" fill="url(#shd)"/>
<use href="#sML" fill="none" stroke="#000" stroke-opacity="0.4" stroke-width="5" filter="url(#bl2)"/>
</g>
<g clip-path="url(#cMR)">
<rect x="390" y="312" width="280" height="200" fill="#d8d2d4"/>
<g filter="url(#bl)"><rect x="389.5" y="311.5" width="81" height="21" fill="#5656f0"/><rect x="469.5" y="311.5" width="41" height="21" fill="#8686e2"/><rect x="509.5" y="311.5" width="41" height="21" fill="#e6c9c9"/><rect x="549.5" y="311.5" width="21" height="21" fill="#5656f0"/><rect x="569.5" y="311.5" width="41" height="21" fill="#e6c9c9"/><rect x="609.5" y="311.5" width="61" height="21" fill="#e24848"/><rect x="389.5" y="331.5" width="81" height="21" fill="#5656f0"/><rect x="469.5" y="331.5" width="21" height="21" fill="#c2c2ec"/><rect x="489.5" y="331.5" width="21" height="21" fill="#8686e2"/><rect x="509.5" y="331.5" width="21" height="21" fill="#e6c9c9"/><rect x="529.5" y="331.5" width="21" height="21" fill="#e0dddf"/><rect x="549.5" y="331.5" width="21" height="21" fill="#c2c2ec"/><rect x="569.5" y="331.5" width="41" height="21" fill="#dc9898"/><rect x="609.5" y="331.5" width="61" height="21" fill="#e24848"/><rect x="389.5" y="351.5" width="61" height="21" fill="#5656f0"/><rect x="449.5" y="351.5" width="21" height="21" fill="#1c16f4"/><rect x="469.5" y="351.5" width="41" height="21" fill="#8686e2"/><rect x="509.5" y="351.5" width="21" height="21" fill="#6464aa"/><rect x="529.5" y="351.5" width="21" height="21" fill="#e6c9c9"/><rect x="549.5" y="351.5" width="21" height="21" fill="#c2c2ec"/><rect x="569.5" y="351.5" width="21" height="21" fill="#e6c9c9"/><rect x="589.5" y="351.5" width="41" height="21" fill="#dc9898"/><rect x="629.5" y="351.5" width="41" height="21" fill="#e0dddf"/><rect x="389.5" y="371.5" width="41" height="21" fill="#5656f0"/><rect x="429.5" y="371.5" width="61" height="21" fill="#8686e2"/><rect x="489.5" y="371.5" width="101" height="21" fill="#c2c2ec"/><rect x="589.5" y="371.5" width="21" height="21" fill="#e6c9c9"/><rect x="609.5" y="371.5" width="21" height="21" fill="#e0dddf"/><rect x="629.5" y="371.5" width="41" height="21" fill="#dc9898"/><rect x="389.5" y="391.5" width="21" height="21" fill="#5656f0"/><rect x="409.5" y="391.5" width="21" height="21" fill="#8686e2"/><rect x="429.5" y="391.5" width="21" height="21" fill="#c2c2ec"/><rect x="449.5" y="391.5" width="21" height="21" fill="#dc9898"/><rect x="469.5" y="391.5" width="61" height="21" fill="#e0dddf"/><rect x="529.5" y="391.5" width="21" height="21" fill="#c2c2ec"/><rect x="549.5" y="391.5" width="21" height="21" fill="#e0dddf"/><rect x="569.5" y="391.5" width="41" height="21" fill="#c2c2ec"/><rect x="609.5" y="391.5" width="21" height="21" fill="#8686e2"/><rect x="629.5" y="391.5" width="41" height="21" fill="#5656f0"/><rect x="389.5" y="411.5" width="61" height="21" fill="#c2c2ec"/><rect x="449.5" y="411.5" width="121" height="21" fill="#e0dddf"/><rect x="569.5" y="411.5" width="21" height="21" fill="#c2c2ec"/><rect x="589.5" y="411.5" width="21" height="21" fill="#8686e2"/><rect x="609.5" y="411.5" width="41" height="21" fill="#24248c"/><rect x="649.5" y="411.5" width="21" height="21" fill="#5656f0"/><rect x="389.5" y="431.5" width="41" height="21" fill="#e6c9c9"/><rect x="429.5" y="431.5" width="141" height="21" fill="#e0dddf"/><rect x="569.5" y="431.5" width="21" height="21" fill="#a06868"/><rect x="589.5" y="431.5" width="81" height="21" fill="#1c16f4"/><rect x="389.5" y="451.5" width="81" height="21" fill="#e6c9c9"/><rect x="469.5" y="451.5" width="101" height="21" fill="#e0dddf"/><rect x="569.5" y="451.5" width="21" height="21" fill="#e6c9c9"/><rect x="589.5" y="451.5" width="21" height="21" fill="#a06868"/><rect x="609.5" y="451.5" width="21" height="21" fill="#5656f0"/><rect x="629.5" y="451.5" width="21" height="21" fill="#1c16f4"/><rect x="649.5" y="451.5" width="21" height="21" fill="#5656f0"/><rect x="389.5" y="471.5" width="41" height="21" fill="#e0dddf"/><rect x="429.5" y="471.5" width="41" height="21" fill="#c2c2ec"/><rect x="469.5" y="471.5" width="41" height="21" fill="#1c16f4"/><rect x="509.5" y="471.5" width="41" height="21" fill="#e0dddf"/><rect x="549.5" y="471.5" width="41" height="21" fill="#5656f0"/><rect x="589.5" y="471.5" width="41" height="21" fill="#e6c9c9"/><rect x="629.5" y="471.5" width="21" height="21" fill="#1c16f4"/><rect x="649.5" y="471.5" width="21" height="21" fill="#5656f0"/><rect x="389.5" y="491.5" width="41" height="21" fill="#e0dddf"/><rect x="429.5" y="491.5" width="21" height="21" fill="#c2c2ec"/><rect x="449.5" y="491.5" width="61" height="21" fill="#1c16f4"/><rect x="509.5" y="491.5" width="81" height="21" fill="#5656f0"/><rect x="589.5" y="491.5" width="41" height="21" fill="#e6c9c9"/><rect x="629.5" y="491.5" width="21" height="21" fill="#1c16f4"/><rect x="649.5" y="491.5" width="21" height="21" fill="#5656f0"/></g>
<g fill="#1a1a1a" filter="url(#bl5)"><circle cx="620" cy="382" r="12" fill-opacity="0.22"/><circle cx="560" cy="442" r="12" fill-opacity="0.22"/><circle cx="500" cy="462" r="12" fill-opacity="0.5"/><circle cx="520" cy="462" r="12" fill-opacity="0.5"/><circle cx="540" cy="462" r="12" fill-opacity="0.5"/><circle cx="560" cy="462" r="12" fill-opacity="0.22"/></g>
<use href="#wMR" fill="url(#mwg)" filter="url(#bl3)"/>
<g fill="none" stroke-linecap="round" filter="url(#bl3)"><path d="M470.0 462.0C475.0 462.5 490.0 465.2 500.0 465.0C510.0 464.8 520.8 463.3 530.0 461.0C539.2 458.7 548.0 454.5 555.0 451.0C562.0 447.5 569.2 441.8 572.0 440.0" stroke="#4a4a4a" stroke-opacity="0.9" stroke-width="11"/><path d="M572.0 440.0C575.0 436.7 584.2 426.2 590.0 420.0C595.8 413.8 600.7 412.8 607.0 403.0C613.3 393.2 624.5 368.0 628.0 361.0" stroke="#3a3a3a" stroke-opacity="0.6" stroke-width="4"/><path d="M553.0 468.0C557.5 466.3 570.5 460.7 580.0 458.0C589.5 455.3 599.2 453.0 610.0 452.0C620.8 451.0 639.2 452.0 645.0 452.0" stroke="#3a3a3a" stroke-opacity="0.5" stroke-width="4"/><path d="M505.0 484.0C508.7 481.7 519.8 474.3 527.0 470.0C534.2 465.7 544.5 460.0 548.0 458.0" stroke="#f6f6f6" stroke-opacity="0.7" stroke-width="5"/></g>
<rect x="390" y="312" width="280" height="200" fill="url(#shd)"/>
<use href="#sMR" fill="none" stroke="#000" stroke-opacity="0.4" stroke-width="5" filter="url(#bl2)"/>
</g>
</g>
<g transform="translate(665.5 0)">
<g clip-path="url(#cLL)">
<rect x="88" y="94" width="280" height="200" fill="#d8d2d4"/>
<g filter="url(#bl)"><rect x="87.5" y="93.5" width="41" height="21" fill="#e0dddf"/><rect x="127.5" y="93.5" width="41" height="21" fill="#8686e2"/><rect x="167.5" y="93.5" width="41" height="21" fill="#c2c2ec"/><rect x="207.5" y="93.5" width="21" height="21" fill="#e0dddf"/><rect x="227.5" y="93.5" width="21" height="21" fill="#dc9898"/><rect x="247.5" y="93.5" width="21" height="21" fill="#1c16f4"/><rect x="267.5" y="93.5" width="21" height="21" fill="#8686e2"/><rect x="287.5" y="93.5" width="81" height="21" fill="#e6c9c9"/><rect x="87.5" y="113.5" width="41" height="21" fill="#e0dddf"/><rect x="127.5" y="113.5" width="41" height="21" fill="#8686e2"/><rect x="167.5" y="113.5" width="41" height="21" fill="#c2c2ec"/><rect x="207.5" y="113.5" width="21" height="21" fill="#8686e2"/><rect x="227.5" y="113.5" width="21" height="21" fill="#e0dddf"/><rect x="247.5" y="113.5" width="21" height="21" fill="#5656f0"/><rect x="267.5" y="113.5" width="101" height="21" fill="#e6c9c9"/><rect x="87.5" y="133.5" width="41" height="21" fill="#e0dddf"/><rect x="127.5" y="133.5" width="21" height="21" fill="#e6c9c9"/><rect x="147.5" y="133.5" width="21" height="21" fill="#dc9898"/><rect x="167.5" y="133.5" width="21" height="21" fill="#e6c9c9"/><rect x="187.5" y="133.5" width="21" height="21" fill="#e0dddf"/><rect x="207.5" y="133.5" width="21" height="21" fill="#8686e2"/><rect x="227.5" y="133.5" width="21" height="21" fill="#5656f0"/><rect x="247.5" y="133.5" width="21" height="21" fill="#e0dddf"/><rect x="267.5" y="133.5" width="21" height="21" fill="#c2c2ec"/><rect x="287.5" y="133.5" width="41" height="21" fill="#8686e2"/><rect x="327.5" y="133.5" width="41" height="21" fill="#e6c9c9"/><rect x="87.5" y="153.5" width="61" height="21" fill="#e0dddf"/><rect x="147.5" y="153.5" width="21" height="21" fill="#dc9898"/><rect x="167.5" y="153.5" width="41" height="21" fill="#e0dddf"/><rect x="207.5" y="153.5" width="21" height="21" fill="#5656f0"/><rect x="227.5" y="153.5" width="21" height="21" fill="#e6c9c9"/><rect x="247.5" y="153.5" width="21" height="21" fill="#e0dddf"/><rect x="267.5" y="153.5" width="41" height="21" fill="#dc9898"/><rect x="307.5" y="153.5" width="21" height="21" fill="#e6c9c9"/><rect x="327.5" y="153.5" width="41" height="21" fill="#c2c2ec"/><rect x="87.5" y="173.5" width="141" height="21" fill="#e0dddf"/><rect x="227.5" y="173.5" width="21" height="21" fill="#dc9898"/><rect x="247.5" y="173.5" width="21" height="21" fill="#e0dddf"/><rect x="267.5" y="173.5" width="21" height="21" fill="#e6c9c9"/><rect x="287.5" y="173.5" width="21" height="21" fill="#c2c2ec"/><rect x="307.5" y="173.5" width="21" height="21" fill="#dc9898"/><rect x="327.5" y="173.5" width="21" height="21" fill="#8686e2"/><rect x="347.5" y="173.5" width="21" height="21" fill="#c2c2ec"/><rect x="87.5" y="193.5" width="21" height="21" fill="#8686e2"/><rect x="107.5" y="193.5" width="41" height="21" fill="#e0dddf"/><rect x="147.5" y="193.5" width="41" height="21" fill="#c2c2ec"/><rect x="187.5" y="193.5" width="21" height="21" fill="#6464aa"/><rect x="207.5" y="193.5" width="81" height="21" fill="#e0dddf"/><rect x="287.5" y="193.5" width="41" height="21" fill="#c2c2ec"/><rect x="327.5" y="193.5" width="21" height="21" fill="#e6c9c9"/><rect x="347.5" y="193.5" width="21" height="21" fill="#5656f0"/><rect x="87.5" y="213.5" width="61" height="21" fill="#e0dddf"/><rect x="147.5" y="213.5" width="21" height="21" fill="#e6c9c9"/><rect x="167.5" y="213.5" width="41" height="21" fill="#1c16f4"/><rect x="207.5" y="213.5" width="21" height="21" fill="#8686e2"/><rect x="227.5" y="213.5" width="41" height="21" fill="#e0dddf"/><rect x="267.5" y="213.5" width="41" height="21" fill="#c2c2ec"/><rect x="307.5" y="213.5" width="41" height="21" fill="#dc9898"/><rect x="347.5" y="213.5" width="21" height="21" fill="#5656f0"/><rect x="87.5" y="233.5" width="21" height="21" fill="#e0dddf"/><rect x="107.5" y="233.5" width="41" height="21" fill="#a06868"/><rect x="147.5" y="233.5" width="21" height="21" fill="#8686e2"/><rect x="167.5" y="233.5" width="21" height="21" fill="#1c16f4"/><rect x="187.5" y="233.5" width="21" height="21" fill="#5656f0"/><rect x="207.5" y="233.5" width="21" height="21" fill="#6464aa"/><rect x="227.5" y="233.5" width="21" height="21" fill="#5656f0"/><rect x="247.5" y="233.5" width="61" height="21" fill="#e0dddf"/><rect x="307.5" y="233.5" width="41" height="21" fill="#dc9898"/><rect x="347.5" y="233.5" width="21" height="21" fill="#8686e2"/><rect x="87.5" y="253.5" width="61" height="21" fill="#e0dddf"/><rect x="147.5" y="253.5" width="21" height="21" fill="#6464aa"/><rect x="167.5" y="253.5" width="21" height="21" fill="#24248c"/><rect x="187.5" y="253.5" width="41" height="21" fill="#5656f0"/><rect x="227.5" y="253.5" width="21" height="21" fill="#8686e2"/><rect x="247.5" y="253.5" width="61" height="21" fill="#e0dddf"/><rect x="307.5" y="253.5" width="41" height="21" fill="#dc9898"/><rect x="347.5" y="253.5" width="21" height="21" fill="#8686e2"/><rect x="87.5" y="273.5" width="61" height="21" fill="#e0dddf"/><rect x="147.5" y="273.5" width="81" height="21" fill="#24248c"/><rect x="227.5" y="273.5" width="41" height="21" fill="#5656f0"/><rect x="267.5" y="273.5" width="41" height="21" fill="#e0dddf"/><rect x="307.5" y="273.5" width="41" height="21" fill="#dc9898"/><rect x="347.5" y="273.5" width="21" height="21" fill="#8686e2"/></g>
<g fill="#1a1a1a" filter="url(#bl5)"><circle cx="198" cy="144" r="12" fill-opacity="0.22"/><circle cx="138" cy="164" r="12" fill-opacity="0.22"/><circle cx="198" cy="164" r="12" fill-opacity="0.22"/><circle cx="258" cy="164" r="12" fill-opacity="0.22"/><circle cx="98" cy="184" r="12" fill-opacity="0.22"/><circle cx="198" cy="184" r="12" fill-opacity="0.22"/><circle cx="258" cy="184" r="12" fill-opacity="0.22"/><circle cx="118" cy="204" r="12" fill-opacity="0.22"/><circle cx="238" cy="204" r="12" fill-opacity="0.22"/><circle cx="258" cy="204" r="12" fill-opacity="0.22"/><circle cx="98" cy="224" r="12" fill-opacity="0.22"/><circle cx="238" cy="224" r="12" fill-opacity="0.22"/><circle cx="98" cy="244" r="12" fill-opacity="0.22"/><circle cx="98" cy="264" r="12" fill-opacity="0.22"/><circle cx="118" cy="264" r="12" fill-opacity="0.22"/><circle cx="138" cy="264" r="12" fill-opacity="0.22"/><circle cx="278" cy="264" r="12" fill-opacity="0.22"/><circle cx="298" cy="264" r="12" fill-opacity="0.22"/><circle cx="98" cy="284" r="12" fill-opacity="0.22"/><circle cx="118" cy="284" r="12" fill-opacity="0.22"/><circle cx="138" cy="284" r="12" fill-opacity="0.22"/><circle cx="278" cy="284" r="12" fill-opacity="0.22"/><circle cx="298" cy="284" r="12" fill-opacity="0.22"/></g>
<g fill="none" stroke-linecap="round" filter="url(#bl4)"><path d="M148.0 224.0C150.2 221.7 156.5 213.0 161.0 210.0C165.5 207.0 168.5 207.7 175.0 206.0C181.5 204.3 191.2 202.3 200.0 200.0C208.8 197.7 219.8 194.7 228.0 192.0C236.2 189.3 243.7 187.3 249.0 184.0C254.3 180.7 257.7 176.0 260.0 172.0C262.3 168.0 262.5 162.0 263.0 160.0" stroke="#2a282a" stroke-opacity="0.75" stroke-width="6"/><path d="M251.0 166.0C252.0 168.0 255.2 174.7 257.0 178.0C258.8 181.3 261.2 184.7 262.0 186.0" stroke="#2a282a" stroke-opacity="0.5" stroke-width="13"/><path d="M194.0 139.0C193.7 144.5 193.3 161.3 192.0 172.0C190.7 182.7 187.0 197.8 186.0 203.0" stroke="#2e2c2e" stroke-opacity="0.5" stroke-width="5"/><path d="M242.0 118.0C239.7 121.0 232.7 128.3 228.0 136.0C223.3 143.7 217.0 157.5 214.0 164.0C211.0 170.5 210.7 173.2 210.0 175.0" stroke="#141440" stroke-opacity="0.7" stroke-width="3.5"/><path d="M133.0 161.0C137.2 158.7 149.2 151.3 158.0 147.0C166.8 142.7 181.3 137.0 186.0 135.0" stroke="#3c3a3c" stroke-opacity="0.35" stroke-width="4"/><path d="M116.0 181.0C120.7 179.5 135.8 174.3 144.0 172.0C152.2 169.7 161.5 167.8 165.0 167.0" stroke="#3c3a3c" stroke-opacity="0.3" stroke-width="4"/><path d="M228.0 234.0C235.0 230.5 256.0 220.0 270.0 213.0C284.0 206.0 305.0 195.5 312.0 192.0" stroke="#3c3a3c" stroke-opacity="0.3" stroke-width="4"/><path d="M102.0 241.0C106.7 242.8 118.3 249.7 130.0 252.0C141.7 254.3 165.0 254.5 172.0 255.0" stroke="#2e2c2e" stroke-opacity="0.35" stroke-width="8"/></g>
<rect x="88" y="94" width="280" height="200" fill="url(#shd)"/>
<use href="#sLL" fill="none" stroke="#000" stroke-opacity="0.4" stroke-width="5" filter="url(#bl2)"/>
</g>
<g clip-path="url(#cLR)">
<rect x="390" y="94" width="280" height="200" fill="#d8d2d4"/>
<g filter="url(#bl)"><rect x="389.5" y="93.5" width="101" height="21" fill="#e6c9c9"/><rect x="489.5" y="93.5" width="21" height="21" fill="#1c16f4"/><rect x="509.5" y="93.5" width="41" height="21" fill="#e6c9c9"/><rect x="549.5" y="93.5" width="61" height="21" fill="#dc9898"/><rect x="609.5" y="93.5" width="61" height="21" fill="#5656f0"/><rect x="389.5" y="113.5" width="81" height="21" fill="#e6c9c9"/><rect x="469.5" y="113.5" width="21" height="21" fill="#e0dddf"/><rect x="489.5" y="113.5" width="41" height="21" fill="#8686e2"/><rect x="529.5" y="113.5" width="61" height="21" fill="#e6c9c9"/><rect x="589.5" y="113.5" width="81" height="21" fill="#5656f0"/><rect x="389.5" y="133.5" width="41" height="21" fill="#e6c9c9"/><rect x="429.5" y="133.5" width="21" height="21" fill="#8686e2"/><rect x="449.5" y="133.5" width="21" height="21" fill="#dc9898"/><rect x="469.5" y="133.5" width="21" height="21" fill="#e6c9c9"/><rect x="489.5" y="133.5" width="41" height="21" fill="#e0dddf"/><rect x="529.5" y="133.5" width="21" height="21" fill="#dc9898"/><rect x="549.5" y="133.5" width="21" height="21" fill="#e6c9c9"/><rect x="569.5" y="133.5" width="21" height="21" fill="#c2c2ec"/><rect x="589.5" y="133.5" width="21" height="21" fill="#e6c9c9"/><rect x="609.5" y="133.5" width="21" height="21" fill="#5656f0"/><rect x="629.5" y="133.5" width="41" height="21" fill="#e24848"/><rect x="389.5" y="153.5" width="41" height="21" fill="#a06868"/><rect x="429.5" y="153.5" width="21" height="21" fill="#e6c9c9"/><rect x="449.5" y="153.5" width="41" height="21" fill="#dc9898"/><rect x="489.5" y="153.5" width="21" height="21" fill="#e0dddf"/><rect x="509.5" y="153.5" width="41" height="21" fill="#dc9898"/><rect x="549.5" y="153.5" width="21" height="21" fill="#e6c9c9"/><rect x="569.5" y="153.5" width="21" height="21" fill="#c2c2ec"/><rect x="589.5" y="153.5" width="41" height="21" fill="#e6c9c9"/><rect x="629.5" y="153.5" width="41" height="21" fill="#e24848"/><rect x="389.5" y="173.5" width="21" height="21" fill="#5656f0"/><rect x="409.5" y="173.5" width="41" height="21" fill="#e6c9c9"/><rect x="449.5" y="173.5" width="21" height="21" fill="#e0dddf"/><rect x="469.5" y="173.5" width="21" height="21" fill="#dc9898"/><rect x="489.5" y="173.5" width="21" height="21" fill="#e0dddf"/><rect x="509.5" y="173.5" width="21" height="21" fill="#dc9898"/><rect x="529.5" y="173.5" width="41" height="21" fill="#5656f0"/><rect x="569.5" y="173.5" width="21" height="21" fill="#e0dddf"/><rect x="589.5" y="173.5" width="61" height="21" fill="#e6c9c9"/><rect x="649.5" y="173.5" width="21" height="21" fill="#dc9898"/><rect x="389.5" y="193.5" width="21" height="21" fill="#5656f0"/><rect x="409.5" y="193.5" width="21" height="21" fill="#6464aa"/><rect x="429.5" y="193.5" width="41" height="21" fill="#e6c9c9"/><rect x="469.5" y="193.5" width="21" height="21" fill="#e0dddf"/><rect x="489.5" y="193.5" width="21" height="21" fill="#1c16f4"/><rect x="509.5" y="193.5" width="21" height="21" fill="#e0dddf"/><rect x="529.5" y="193.5" width="21" height="21" fill="#e6c9c9"/><rect x="549.5" y="193.5" width="101" height="21" fill="#e0dddf"/><rect x="649.5" y="193.5" width="21" height="21" fill="#c2c2ec"/><rect x="389.5" y="213.5" width="21" height="21" fill="#5656f0"/><rect x="409.5" y="213.5" width="21" height="21" fill="#6464aa"/><rect x="429.5" y="213.5" width="21" height="21" fill="#e6c9c9"/><rect x="449.5" y="213.5" width="21" height="21" fill="#a06868"/><rect x="469.5" y="213.5" width="21" height="21" fill="#dc9898"/><rect x="489.5" y="213.5" width="21" height="21" fill="#24248c"/><rect x="509.5" y="213.5" width="21" height="21" fill="#e0dddf"/><rect x="529.5" y="213.5" width="21" height="21" fill="#5656f0"/><rect x="549.5" y="213.5" width="41" height="21" fill="#1c16f4"/><rect x="589.5" y="213.5" width="21" height="21" fill="#5656f0"/><rect x="609.5" y="213.5" width="21" height="21" fill="#e0dddf"/><rect x="629.5" y="213.5" width="41" height="21" fill="#c2c2ec"/><rect x="389.5" y="233.5" width="21" height="21" fill="#e0dddf"/><rect x="409.5" y="233.5" width="41" height="21" fill="#e6c9c9"/><rect x="449.5" y="233.5" width="21" height="21" fill="#a06868"/><rect x="469.5" y="233.5" width="21" height="21" fill="#dc9898"/><rect x="489.5" y="233.5" width="41" height="21" fill="#8686e2"/><rect x="529.5" y="233.5" width="21" height="21" fill="#5656f0"/><rect x="549.5" y="233.5" width="21" height="21" fill="#8686e2"/><rect x="569.5" y="233.5" width="41" height="21" fill="#5656f0"/><rect x="609.5" y="233.5" width="61" height="21" fill="#a06868"/><rect x="389.5" y="253.5" width="21" height="21" fill="#e0dddf"/><rect x="409.5" y="253.5" width="21" height="21" fill="#e6c9c9"/><rect x="429.5" y="253.5" width="41" height="21" fill="#6464aa"/><rect x="469.5" y="253.5" width="61" height="21" fill="#e0dddf"/><rect x="529.5" y="253.5" width="21" height="21" fill="#5656f0"/><rect x="549.5" y="253.5" width="41" height="21" fill="#8686e2"/><rect x="589.5" y="253.5" width="21" height="21" fill="#6464aa"/><rect x="609.5" y="253.5" width="61" height="21" fill="#a06868"/><rect x="389.5" y="273.5" width="21" height="21" fill="#e0dddf"/><rect x="409.5" y="273.5" width="21" height="21" fill="#e6c9c9"/><rect x="429.5" y="273.5" width="41" height="21" fill="#6464aa"/><rect x="469.5" y="273.5" width="41" height="21" fill="#e0dddf"/><rect x="509.5" y="273.5" width="41" height="21" fill="#5656f0"/><rect x="549.5" y="273.5" width="61" height="21" fill="#8686e2"/><rect x="609.5" y="273.5" width="61" height="21" fill="#a06868"/></g>
<g fill="#1a1a1a" filter="url(#bl5)"><circle cx="480" cy="124" r="12" fill-opacity="0.22"/><circle cx="500" cy="144" r="12" fill-opacity="0.22"/><circle cx="500" cy="164" r="12" fill-opacity="0.22"/><circle cx="460" cy="184" r="12" fill-opacity="0.22"/><circle cx="500" cy="184" r="12" fill-opacity="0.22"/><circle cx="480" cy="204" r="12" fill-opacity="0.22"/><circle cx="560" cy="204" r="12" fill-opacity="0.22"/><circle cx="600" cy="204" r="12" fill-opacity="0.22"/><circle cx="520" cy="224" r="12" fill-opacity="0.22"/><circle cx="620" cy="224" r="12" fill-opacity="0.22"/><circle cx="400" cy="244" r="12" fill-opacity="0.22"/><circle cx="400" cy="264" r="12" fill-opacity="0.22"/><circle cx="480" cy="264" r="12" fill-opacity="0.22"/><circle cx="500" cy="264" r="12" fill-opacity="0.22"/><circle cx="400" cy="284" r="12" fill-opacity="0.22"/><circle cx="480" cy="284" r="12" fill-opacity="0.22"/><circle cx="500" cy="284" r="12" fill-opacity="0.22"/></g>
<g fill="none" stroke-linecap="round" filter="url(#bl4)"><path d="M502.0 164.0C501.0 167.5 496.0 179.0 496.0 185.0C496.0 191.0 497.5 195.8 502.0 200.0C506.5 204.2 514.8 207.2 523.0 210.0C531.2 212.8 542.8 215.8 551.0 217.0C559.2 218.2 568.5 217.0 572.0 217.0" stroke="#2a282a" stroke-opacity="0.75" stroke-width="7"/><path d="M583.0 203.0C585.8 204.0 595.3 206.2 600.0 209.0C604.7 211.8 608.2 216.8 611.0 220.0C613.8 223.2 616.0 226.7 617.0 228.0" stroke="#2a282a" stroke-opacity="0.65" stroke-width="5"/><path d="M450.0 140.0C451.2 146.3 454.8 165.7 457.0 178.0C459.2 190.3 462.0 208.0 463.0 214.0" stroke="#2e2c2e" stroke-opacity="0.5" stroke-width="6"/><path d="M468.0 154.0C469.7 158.3 474.7 171.8 478.0 180.0C481.3 188.2 486.3 199.2 488.0 203.0" stroke="#2e2c2e" stroke-opacity="0.45" stroke-width="5"/><path d="M506.0 109.0C507.7 112.3 512.0 122.2 516.0 129.0C520.0 135.8 527.7 146.5 530.0 150.0" stroke="#141440" stroke-opacity="0.7" stroke-width="3.5"/><path d="M537.0 129.0C542.8 129.2 560.3 127.7 572.0 130.0C583.7 132.3 601.2 140.8 607.0 143.0" stroke="#3c3a3c" stroke-opacity="0.3" stroke-width="3"/><path d="M600.0 250.0C605.0 251.0 620.7 255.2 630.0 256.0C639.3 256.8 651.7 255.2 656.0 255.0" stroke="#2e2c2e" stroke-opacity="0.35" stroke-width="8"/></g>
<rect x="390" y="94" width="280" height="200" fill="url(#shd)"/>
<use href="#sLR" fill="none" stroke="#000" stroke-opacity="0.4" stroke-width="5" filter="url(#bl2)"/>
</g>
<g clip-path="url(#cML)">
<rect x="88" y="312" width="280" height="200" fill="#d8d2d4"/>
<g filter="url(#bl)"><rect x="107.5" y="311.5" width="81" height="21" fill="#8686e2"/><rect x="187.5" y="311.5" width="21" height="21" fill="#dc9898"/><rect x="207.5" y="311.5" width="41" height="21" fill="#e6c9c9"/><rect x="247.5" y="311.5" width="21" height="21" fill="#e0dddf"/><rect x="267.5" y="311.5" width="41" height="21" fill="#8686e2"/><rect x="307.5" y="311.5" width="61" height="21" fill="#5656f0"/><rect x="87.5" y="331.5" width="81" height="21" fill="#dc9898"/><rect x="167.5" y="331.5" width="21" height="21" fill="#e6c9c9"/><rect x="187.5" y="331.5" width="21" height="21" fill="#e0dddf"/><rect x="207.5" y="331.5" width="41" height="21" fill="#8686e2"/><rect x="247.5" y="331.5" width="21" height="21" fill="#e0dddf"/><rect x="267.5" y="331.5" width="41" height="21" fill="#8686e2"/><rect x="307.5" y="331.5" width="61" height="21" fill="#5656f0"/><rect x="87.5" y="351.5" width="61" height="21" fill="#dc9898"/><rect x="147.5" y="351.5" width="21" height="21" fill="#e6c9c9"/><rect x="167.5" y="351.5" width="21" height="21" fill="#8686e2"/><rect x="187.5" y="351.5" width="21" height="21" fill="#e0dddf"/><rect x="207.5" y="351.5" width="41" height="21" fill="#a06868"/><rect x="247.5" y="351.5" width="41" height="21" fill="#e0dddf"/><rect x="287.5" y="351.5" width="81" height="21" fill="#5656f0"/><rect x="87.5" y="371.5" width="41" height="21" fill="#5656f0"/><rect x="127.5" y="371.5" width="21" height="21" fill="#e0dddf"/><rect x="147.5" y="371.5" width="21" height="21" fill="#e6c9c9"/><rect x="167.5" y="371.5" width="21" height="21" fill="#c2c2ec"/><rect x="187.5" y="371.5" width="21" height="21" fill="#8686e2"/><rect x="207.5" y="371.5" width="41" height="21" fill="#5656f0"/><rect x="247.5" y="371.5" width="21" height="21" fill="#e6c9c9"/><rect x="267.5" y="371.5" width="41" height="21" fill="#c2c2ec"/><rect x="307.5" y="371.5" width="21" height="21" fill="#e0dddf"/><rect x="327.5" y="371.5" width="41" height="21" fill="#5656f0"/><rect x="87.5" y="391.5" width="41" height="21" fill="#5656f0"/><rect x="127.5" y="391.5" width="21" height="21" fill="#8686e2"/><rect x="147.5" y="391.5" width="21" height="21" fill="#e0dddf"/><rect x="167.5" y="391.5" width="21" height="21" fill="#8686e2"/><rect x="187.5" y="391.5" width="81" height="21" fill="#e0dddf"/><rect x="267.5" y="391.5" width="41" height="21" fill="#e6c9c9"/><rect x="307.5" y="391.5" width="21" height="21" fill="#e0dddf"/><rect x="327.5" y="391.5" width="21" height="21" fill="#5656f0"/><rect x="347.5" y="391.5" width="21" height="21" fill="#e6c9c9"/><rect x="87.5" y="411.5" width="21" height="21" fill="#5656f0"/><rect x="107.5" y="411.5" width="41" height="21" fill="#1c16f4"/><rect x="147.5" y="411.5" width="141" height="21" fill="#e0dddf"/><rect x="287.5" y="411.5" width="41" height="21" fill="#c2c2ec"/><rect x="327.5" y="411.5" width="41" height="21" fill="#e0dddf"/><rect x="87.5" y="431.5" width="41" height="21" fill="#1c16f4"/><rect x="127.5" y="431.5" width="21" height="21" fill="#a06868"/><rect x="147.5" y="431.5" width="21" height="21" fill="#8686e2"/><rect x="167.5" y="431.5" width="121" height="21" fill="#e0dddf"/><rect x="287.5" y="431.5" width="21" height="21" fill="#e6c9c9"/><rect x="307.5" y="431.5" width="21" height="21" fill="#c2c2ec"/><rect x="327.5" y="431.5" width="41" height="21" fill="#e6c9c9"/><rect x="87.5" y="451.5" width="41" height="21" fill="#5656f0"/><rect x="127.5" y="451.5" width="41" height="21" fill="#e0dddf"/><rect x="167.5" y="451.5" width="21" height="21" fill="#5656f0"/><rect x="187.5" y="451.5" width="21" height="21" fill="#e6c9c9"/><rect x="207.5" y="451.5" width="61" height="21" fill="#e0dddf"/><rect x="267.5" y="451.5" width="21" height="21" fill="#1c16f4"/><rect x="287.5" y="451.5" width="21" height="21" fill="#5656f0"/><rect x="307.5" y="451.5" width="61" height="21" fill="#e6c9c9"/><rect x="87.5" y="471.5" width="41" height="21" fill="#5656f0"/><rect x="127.5" y="471.5" width="21" height="21" fill="#e0dddf"/><rect x="147.5" y="471.5" width="41" height="21" fill="#24248c"/><rect x="187.5" y="471.5" width="21" height="21" fill="#e6c9c9"/><rect x="207.5" y="471.5" width="41" height="21" fill="#e0dddf"/><rect x="247.5" y="471.5" width="61" height="21" fill="#1c16f4"/><rect x="307.5" y="471.5" width="61" height="21" fill="#e6c9c9"/><rect x="87.5" y="491.5" width="41" height="21" fill="#5656f0"/><rect x="127.5" y="491.5" width="21" height="21" fill="#e0dddf"/><rect x="147.5" y="491.5" width="41" height="21" fill="#24248c"/><rect x="187.5" y="491.5" width="21" height="21" fill="#e6c9c9"/><rect x="207.5" y="491.5" width="41" height="21" fill="#e0dddf"/><rect x="247.5" y="491.5" width="21" height="21" fill="#5656f0"/><rect x="267.5" y="491.5" width="61" height="21" fill="#1c16f4"/><rect x="327.5" y="491.5" width="41" height="21" fill="#e6c9c9"/></g>
<g fill="#1a1a1a" filter="url(#bl5)"><circle cx="198" cy="362" r="12" fill-opacity="0.22"/><circle cx="278" cy="362" r="12" fill-opacity="0.22"/><circle cx="138" cy="382" r="12" fill-opacity="0.5"/><circle cx="318" cy="382" r="12" fill-opacity="0.22"/><circle cx="158" cy="402" r="12" fill-opacity="0.5"/><circle cx="318" cy="402" r="12" fill-opacity="0.22"/><circle cx="158" cy="422" r="12" fill-opacity="0.5"/><circle cx="178" cy="422" r="12" fill-opacity="0.22"/><circle cx="358" cy="422" r="12" fill-opacity="0.22"/><circle cx="198" cy="442" r="12" fill-opacity="0.5"/><circle cx="218" cy="442" r="12" fill-opacity="0.5"/><circle cx="238" cy="442" r="12" fill-opacity="0.22"/><circle cx="218" cy="462" r="12" fill-opacity="0.5"/><circle cx="238" cy="462" r="12" fill-opacity="0.5"/><circle cx="258" cy="462" r="12" fill-opacity="0.5"/><circle cx="218" cy="502" r="12" fill-opacity="0.22"/><circle cx="238" cy="502" r="12" fill-opacity="0.22"/></g>
<use href="#wML" fill="url(#mwg)" filter="url(#bl3)"/>
<g fill="none" stroke-linecap="round" filter="url(#bl3)"><path d="M132.0 357.0C135.0 361.7 144.3 376.2 150.0 385.0C155.7 393.8 160.3 402.5 166.0 410.0C171.7 417.5 181.0 426.7 184.0 430.0" stroke="#3a3a3a" stroke-opacity="0.8" stroke-width="5"/><path d="M184.0 430.0C189.0 432.0 204.3 438.2 214.0 442.0C223.7 445.8 232.7 449.8 242.0 453.0C251.3 456.2 260.7 459.2 270.0 461.0C279.3 462.8 290.0 463.8 298.0 464.0C306.0 464.2 314.7 462.3 318.0 462.0" stroke="#4a4a4a" stroke-opacity="0.9" stroke-width="11"/><path d="M120.0 452.0C125.0 452.3 140.0 453.3 150.0 454.0C160.0 454.7 170.5 452.8 180.0 456.0C189.5 459.2 199.0 467.5 207.0 473.0C215.0 478.5 220.5 484.0 228.0 489.0C235.5 494.0 248.0 500.7 252.0 503.0" stroke="#3a3a3a" stroke-opacity="0.6" stroke-width="4"/><path d="M205.0 467.0C209.2 469.0 221.5 474.8 230.0 479.0C238.5 483.2 251.7 489.8 256.0 492.0" stroke="#f6f6f6" stroke-opacity="0.7" stroke-width="5"/></g>
<rect x="88" y="312" width="280" height="200" fill="url(#shd)"/>
<use href="#sML" fill="none" stroke="#000" stroke-opacity="0.4" stroke-width="5" filter="url(#bl2)"/>
</g>
<g clip-path="url(#cMR)">
<rect x="390" y="312" width="280" height="200" fill="#d8d2d4"/>
<g filter="url(#bl)"><rect x="389.5" y="311.5" width="81" height="21" fill="#5656f0"/><rect x="469.5" y="311.5" width="41" height="21" fill="#8686e2"/><rect x="509.5" y="311.5" width="41" height="21" fill="#e6c9c9"/><rect x="549.5" y="311.5" width="21" height="21" fill="#5656f0"/><rect x="569.5" y="311.5" width="41" height="21" fill="#e6c9c9"/><rect x="609.5" y="311.5" width="61" height="21" fill="#e24848"/><rect x="389.5" y="331.5" width="81" height="21" fill="#5656f0"/><rect x="469.5" y="331.5" width="41" height="21" fill="#c2c2ec"/><rect x="509.5" y="331.5" width="41" height="21" fill="#e6c9c9"/><rect x="549.5" y="331.5" width="21" height="21" fill="#c2c2ec"/><rect x="569.5" y="331.5" width="21" height="21" fill="#e6c9c9"/><rect x="589.5" y="331.5" width="21" height="21" fill="#dc9898"/><rect x="609.5" y="331.5" width="61" height="21" fill="#e24848"/><rect x="389.5" y="351.5" width="81" height="21" fill="#5656f0"/><rect x="469.5" y="351.5" width="41" height="21" fill="#8686e2"/><rect x="509.5" y="351.5" width="21" height="21" fill="#6464aa"/><rect x="529.5" y="351.5" width="21" height="21" fill="#e6c9c9"/><rect x="549.5" y="351.5" width="21" height="21" fill="#c2c2ec"/><rect x="569.5" y="351.5" width="21" height="21" fill="#e6c9c9"/><rect x="589.5" y="351.5" width="41" height="21" fill="#dc9898"/><rect x="629.5" y="351.5" width="41" height="21" fill="#e0dddf"/><rect x="389.5" y="371.5" width="41" height="21" fill="#5656f0"/><rect x="429.5" y="371.5" width="81" height="21" fill="#8686e2"/><rect x="509.5" y="371.5" width="21" height="21" fill="#c2c2ec"/><rect x="529.5" y="371.5" width="21" height="21" fill="#8686e2"/><rect x="549.5" y="371.5" width="41" height="21" fill="#c2c2ec"/><rect x="589.5" y="371.5" width="21" height="21" fill="#e6c9c9"/><rect x="609.5" y="371.5" width="21" height="21" fill="#8686e2"/><rect x="629.5" y="371.5" width="41" height="21" fill="#dc9898"/><rect x="389.5" y="391.5" width="21" height="21" fill="#5656f0"/><rect x="409.5" y="391.5" width="41" height="21" fill="#c2c2ec"/><rect x="449.5" y="391.5" width="21" height="21" fill="#dc9898"/><rect x="469.5" y="391.5" width="61" height="21" fill="#e0dddf"/><rect x="529.5" y="391.5" width="21" height="21" fill="#c2c2ec"/><rect x="549.5" y="391.5" width="21" height="21" fill="#e0dddf"/><rect x="569.5" y="391.5" width="21" height="21" fill="#c2c2ec"/><rect x="589.5" y="391.5" width="41" height="21" fill="#8686e2"/><rect x="629.5" y="391.5" width="41" height="21" fill="#5656f0"/><rect x="389.5" y="411.5" width="41" height="21" fill="#c2c2ec"/><rect x="429.5" y="411.5" width="21" height="21" fill="#8686e2"/><rect x="449.5" y="411.5" width="121" height="21" fill="#e0dddf"/><rect x="569.5" y="411.5" width="21" height="21" fill="#c2c2ec"/><rect x="589.5" y="411.5" width="21" height="21" fill="#8686e2"/><rect x="609.5" y="411.5" width="41" height="21" fill="#24248c"/><rect x="649.5" y="411.5" width="21" height="21" fill="#5656f0"/><rect x="389.5" y="431.5" width="21" height="21" fill="#e6c9c9"/><rect x="409.5" y="431.5" width="41" height="21" fill="#c2c2ec"/><rect x="449.5" y="431.5" width="121" height="21" fill="#e0dddf"/><rect x="569.5" y="431.5" width="21" height="21" fill="#a06868"/><rect x="589.5" y="431.5" width="81" height="21" fill="#1c16f4"/><rect x="389.5" y="451.5" width="21" height="21" fill="#c2c2ec"/><rect x="409.5" y="451.5" width="41" height="21" fill="#e0dddf"/><rect x="449.5" y="451.5" width="41" height="21" fill="#c2c2ec"/><rect x="489.5" y="451.5" width="81" height="21" fill="#e0dddf"/><rect x="569.5" y="451.5" width="21" height="21" fill="#e6c9c9"/><rect x="589.5" y="451.5" width="21" height="21" fill="#a06868"/><rect x="609.5" y="451.5" width="21" height="21" fill="#5656f0"/><rect x="629.5" y="451.5" width="21" height="21" fill="#1c16f4"/><rect x="649.5" y="451.5" width="21" height="21" fill="#5656f0"/><rect x="389.5" y="471.5" width="61" height="21" fill="#e0dddf"/><rect x="449.5" y="471.5" width="21" height="21" fill="#c2c2ec"/><rect x="469.5" y="471.5" width="41" height="21" fill="#1c16f4"/><rect x="509.5" y="471.5" width="41" height="21" fill="#e0dddf"/><rect x="549.5" y="471.5" width="41" height="21" fill="#5656f0"/><rect x="589.5" y="471.5" width="41" height="21" fill="#e6c9c9"/><rect x="629.5" y="471.5" width="21" height="21" fill="#1c16f4"/><rect x="649.5" y="471.5" width="21" height="21" fill="#5656f0"/><rect x="389.5" y="491.5" width="61" height="21" fill="#e0dddf"/><rect x="449.5" y="491.5" width="61" height="21" fill="#1c16f4"/><rect x="509.5" y="491.5" width="81" height="21" fill="#5656f0"/><rect x="589.5" y="491.5" width="41" height="21" fill="#e6c9c9"/><rect x="629.5" y="491.5" width="21" height="21" fill="#1c16f4"/><rect x="649.5" y="491.5" width="21" height="21" fill="#5656f0"/></g>
<g fill="#1a1a1a" filter="url(#bl5)"><circle cx="560" cy="442" r="12" fill-opacity="0.22"/><circle cx="500" cy="462" r="12" fill-opacity="0.5"/><circle cx="520" cy="462" r="12" fill-opacity="0.5"/><circle cx="540" cy="462" r="12" fill-opacity="0.5"/><circle cx="560" cy="462" r="12" fill-opacity="0.22"/></g>
<use href="#wMR" fill="url(#mwg)" filter="url(#bl3)"/>
<g fill="none" stroke-linecap="round" filter="url(#bl3)"><path d="M470.0 462.0C475.0 462.5 490.0 465.2 500.0 465.0C510.0 464.8 520.8 463.3 530.0 461.0C539.2 458.7 548.0 454.5 555.0 451.0C562.0 447.5 569.2 441.8 572.0 440.0" stroke="#4a4a4a" stroke-opacity="0.9" stroke-width="11"/><path d="M572.0 440.0C575.0 436.7 584.2 426.2 590.0 420.0C595.8 413.8 600.7 412.8 607.0 403.0C613.3 393.2 624.5 368.0 628.0 361.0" stroke="#3a3a3a" stroke-opacity="0.6" stroke-width="4"/><path d="M553.0 468.0C557.5 466.3 570.5 460.7 580.0 458.0C589.5 455.3 599.2 453.0 610.0 452.0C620.8 451.0 639.2 452.0 645.0 452.0" stroke="#3a3a3a" stroke-opacity="0.5" stroke-width="4"/><path d="M505.0 484.0C508.7 481.7 519.8 474.3 527.0 470.0C534.2 465.7 544.5 460.0 548.0 458.0" stroke="#f6f6f6" stroke-opacity="0.7" stroke-width="5"/></g>
<rect x="390" y="312" width="280" height="200" fill="url(#shd)"/>
<use href="#sMR" fill="none" stroke="#000" stroke-opacity="0.4" stroke-width="5" filter="url(#bl2)"/>
</g>
</g>
<g transform="translate(1327.5 7.4) scale(0.988)">
<g clip-path="url(#cLL)">
<rect x="88" y="94" width="280" height="200" fill="#d8d2d4"/>
<g filter="url(#bl)"><rect x="87.5" y="93.5" width="121" height="21" fill="#8686e2"/><rect x="207.5" y="93.5" width="41" height="21" fill="#c2c2ec"/><rect x="247.5" y="93.5" width="21" height="21" fill="#5656f0"/><rect x="267.5" y="93.5" width="21" height="21" fill="#8686e2"/><rect x="287.5" y="93.5" width="81" height="21" fill="#5656f0"/><rect x="87.5" y="113.5" width="81" height="21" fill="#8686e2"/><rect x="167.5" y="113.5" width="21" height="21" fill="#c2c2ec"/><rect x="187.5" y="113.5" width="21" height="21" fill="#5656f0"/><rect x="207.5" y="113.5" width="21" height="21" fill="#8686e2"/><rect x="227.5" y="113.5" width="41" height="21" fill="#e6c9c9"/><rect x="267.5" y="113.5" width="21" height="21" fill="#c2c2ec"/><rect x="287.5" y="113.5" width="21" height="21" fill="#e6c9c9"/><rect x="307.5" y="113.5" width="61" height="21" fill="#8686e2"/><rect x="87.5" y="133.5" width="41" height="21" fill="#8686e2"/><rect x="127.5" y="133.5" width="21" height="21" fill="#e6c9c9"/><rect x="147.5" y="133.5" width="21" height="21" fill="#c2c2ec"/><rect x="167.5" y="133.5" width="41" height="21" fill="#8686e2"/><rect x="207.5" y="133.5" width="21" height="21" fill="#5656f0"/><rect x="227.5" y="133.5" width="21" height="21" fill="#e6c9c9"/><rect x="247.5" y="133.5" width="21" height="21" fill="#8686e2"/><rect x="267.5" y="133.5" width="41" height="21" fill="#c2c2ec"/><rect x="307.5" y="133.5" width="61" height="21" fill="#8686e2"/><rect x="87.5" y="153.5" width="41" height="21" fill="#c2c2ec"/><rect x="127.5" y="153.5" width="21" height="21" fill="#8686e2"/><rect x="147.5" y="153.5" width="41" height="21" fill="#5656f0"/><rect x="187.5" y="153.5" width="21" height="21" fill="#8686e2"/><rect x="207.5" y="153.5" width="21" height="21" fill="#c2c2ec"/><rect x="227.5" y="153.5" width="21" height="21" fill="#8686e2"/><rect x="247.5" y="153.5" width="21" height="21" fill="#24248c"/><rect x="267.5" y="153.5" width="21" height="21" fill="#8686e2"/><rect x="287.5" y="153.5" width="21" height="21" fill="#5656f0"/><rect x="307.5" y="153.5" width="21" height="21" fill="#1c16f4"/><rect x="327.5" y="153.5" width="41" height="21" fill="#e6c9c9"/><rect x="87.5" y="173.5" width="21" height="21" fill="#e0dddf"/><rect x="107.5" y="173.5" width="21" height="21" fill="#c2c2ec"/><rect x="127.5" y="173.5" width="21" height="21" fill="#8686e2"/><rect x="147.5" y="173.5" width="41" height="21" fill="#5656f0"/><rect x="187.5" y="173.5" width="21" height="21" fill="#6464aa"/><rect x="207.5" y="173.5" width="21" height="21" fill="#c2c2ec"/><rect x="227.5" y="173.5" width="21" height="21" fill="#8686e2"/><rect x="247.5" y="173.5" width="21" height="21" fill="#24248c"/><rect x="267.5" y="173.5" width="21" height="21" fill="#8686e2"/><rect x="287.5" y="173.5" width="21" height="21" fill="#5656f0"/><rect x="307.5" y="173.5" width="21" height="21" fill="#1c16f4"/><rect x="327.5" y="173.5" width="21" height="21" fill="#e6c9c9"/><rect x="347.5" y="173.5" width="21" height="21" fill="#c2c2ec"/><rect x="87.5" y="193.5" width="41" height="21" fill="#8686e2"/><rect x="127.5" y="193.5" width="21" height="21" fill="#c2c2ec"/><rect x="147.5" y="193.5" width="21" height="21" fill="#8686e2"/><rect x="167.5" y="193.5" width="21" height="21" fill="#5656f0"/><rect x="187.5" y="193.5" width="41" height="21" fill="#8686e2"/><rect x="227.5" y="193.5" width="41" height="21" fill="#c2c2ec"/><rect x="267.5" y="193.5" width="21" height="21" fill="#8686e2"/><rect x="287.5" y="193.5" width="21" height="21" fill="#c2c2ec"/><rect x="307.5" y="193.5" width="21" height="21" fill="#5656f0"/><rect x="327.5" y="193.5" width="21" height="21" fill="#e6c9c9"/><rect x="347.5" y="193.5" width="21" height="21" fill="#8686e2"/><rect x="87.5" y="213.5" width="21" height="21" fill="#a06868"/><rect x="107.5" y="213.5" width="41" height="21" fill="#5656f0"/><rect x="147.5" y="213.5" width="21" height="21" fill="#c2c2ec"/><rect x="167.5" y="213.5" width="21" height="21" fill="#5656f0"/><rect x="187.5" y="213.5" width="41" height="21" fill="#8686e2"/><rect x="227.5" y="213.5" width="41" height="21" fill="#6464aa"/><rect x="267.5" y="213.5" width="21" height="21" fill="#c2c2ec"/><rect x="287.5" y="213.5" width="21" height="21" fill="#e6c9c9"/><rect x="307.5" y="213.5" width="21" height="21" fill="#5656f0"/><rect x="327.5" y="213.5" width="21" height="21" fill="#c2c2ec"/><rect x="347.5" y="213.5" width="21" height="21" fill="#8686e2"/><rect x="87.5" y="233.5" width="21" height="21" fill="#a06868"/><rect x="107.5" y="233.5" width="41" height="21" fill="#6464aa"/><rect x="147.5" y="233.5" width="21" height="21" fill="#c2c2ec"/><rect x="167.5" y="233.5" width="21" height="21" fill="#8686e2"/><rect x="187.5" y="233.5" width="21" height="21" fill="#5656f0"/><rect x="207.5" y="233.5" width="21" height="21" fill="#8686e2"/><rect x="227.5" y="233.5" width="21" height="21" fill="#5656f0"/><rect x="247.5" y="233.5" width="61" height="21" fill="#e6c9c9"/><rect x="307.5" y="233.5" width="41" height="21" fill="#c2c2ec"/><rect x="347.5" y="233.5" width="21" height="21" fill="#8686e2"/><rect x="87.5" y="253.5" width="81" height="21" fill="#6464aa"/><rect x="167.5" y="253.5" width="21" height="21" fill="#24248c"/><rect x="187.5" y="253.5" width="21" height="21" fill="#8686e2"/><rect x="207.5" y="253.5" width="41" height="21" fill="#5656f0"/><rect x="247.5" y="253.5" width="21" height="21" fill="#e6c9c9"/><rect x="267.5" y="253.5" width="41" height="21" fill="#8686e2"/><rect x="307.5" y="253.5" width="41" height="21" fill="#c2c2ec"/><rect x="347.5" y="253.5" width="21" height="21" fill="#8686e2"/><rect x="87.5" y="273.5" width="61" height="21" fill="#6464aa"/><rect x="147.5" y="273.5" width="61" height="21" fill="#24248c"/><rect x="207.5" y="273.5" width="101" height="21" fill="#8686e2"/><rect x="307.5" y="273.5" width="41" height="21" fill="#c2c2ec"/><rect x="347.5" y="273.5" width="21" height="21" fill="#8686e2"/></g>
<g fill="#1a1a1a" filter="url(#bl5)"><circle cx="98" cy="184" r="12" fill-opacity="0.22"/></g>
<g fill="none" stroke-linecap="round" filter="url(#bl4)"><path d="M148.0 224.0C150.2 221.7 156.5 213.0 161.0 210.0C165.5 207.0 168.5 207.7 175.0 206.0C181.5 204.3 191.2 202.3 200.0 200.0C208.8 197.7 219.8 194.7 228.0 192.0C236.2 189.3 243.7 187.3 249.0 184.0C254.3 180.7 257.7 176.0 260.0 172.0C262.3 168.0 262.5 162.0 263.0 160.0" stroke="#2a282a" stroke-opacity="0.75" stroke-width="6"/><path d="M251.0 166.0C252.0 168.0 255.2 174.7 257.0 178.0C258.8 181.3 261.2 184.7 262.0 186.0" stroke="#2a282a" stroke-opacity="0.5" stroke-width="13"/><path d="M194.0 139.0C193.7 144.5 193.3 161.3 192.0 172.0C190.7 182.7 187.0 197.8 186.0 203.0" stroke="#2e2c2e" stroke-opacity="0.5" stroke-width="5"/><path d="M242.0 118.0C239.7 121.0 232.7 128.3 228.0 136.0C223.3 143.7 217.0 157.5 214.0 164.0C211.0 170.5 210.7 173.2 210.0 175.0" stroke="#141440" stroke-opacity="0.7" stroke-width="3.5"/><path d="M133.0 161.0C137.2 158.7 149.2 151.3 158.0 147.0C166.8 142.7 181.3 137.0 186.0 135.0" stroke="#3c3a3c" stroke-opacity="0.35" stroke-width="4"/><path d="M116.0 181.0C120.7 179.5 135.8 174.3 144.0 172.0C152.2 169.7 161.5 167.8 165.0 167.0" stroke="#3c3a3c" stroke-opacity="0.3" stroke-width="4"/><path d="M228.0 234.0C235.0 230.5 256.0 220.0 270.0 213.0C284.0 206.0 305.0 195.5 312.0 192.0" stroke="#3c3a3c" stroke-opacity="0.3" stroke-width="4"/><path d="M102.0 241.0C106.7 242.8 118.3 249.7 130.0 252.0C141.7 254.3 165.0 254.5 172.0 255.0" stroke="#2e2c2e" stroke-opacity="0.35" stroke-width="8"/></g>
<rect x="88" y="94" width="280" height="200" fill="url(#shd)"/>
<use href="#sLL" fill="none" stroke="#000" stroke-opacity="0.4" stroke-width="5" filter="url(#bl2)"/>
</g>
<g clip-path="url(#cLR)">
<rect x="390" y="94" width="280" height="200" fill="#d8d2d4"/>
<g filter="url(#bl)"><rect x="389.5" y="93.5" width="41" height="21" fill="#c2c2ec"/><rect x="429.5" y="93.5" width="61" height="21" fill="#e6c9c9"/><rect x="489.5" y="93.5" width="21" height="21" fill="#5656f0"/><rect x="509.5" y="93.5" width="21" height="21" fill="#8686e2"/><rect x="529.5" y="93.5" width="21" height="21" fill="#c2c2ec"/><rect x="549.5" y="93.5" width="21" height="21" fill="#e6c9c9"/><rect x="569.5" y="93.5" width="101" height="21" fill="#c2c2ec"/><rect x="389.5" y="113.5" width="41" height="21" fill="#c2c2ec"/><rect x="429.5" y="113.5" width="41" height="21" fill="#e6c9c9"/><rect x="469.5" y="113.5" width="21" height="21" fill="#6464aa"/><rect x="489.5" y="113.5" width="21" height="21" fill="#5656f0"/><rect x="509.5" y="113.5" width="21" height="21" fill="#6464aa"/><rect x="529.5" y="113.5" width="21" height="21" fill="#8686e2"/><rect x="549.5" y="113.5" width="41" height="21" fill="#e6c9c9"/><rect x="589.5" y="113.5" width="81" height="21" fill="#c2c2ec"/><rect x="389.5" y="133.5" width="41" height="21" fill="#c2c2ec"/><rect x="429.5" y="133.5" width="21" height="21" fill="#5656f0"/><rect x="449.5" y="133.5" width="61" height="21" fill="#8686e2"/><rect x="509.5" y="133.5" width="21" height="21" fill="#6464aa"/><rect x="529.5" y="133.5" width="21" height="21" fill="#8686e2"/><rect x="549.5" y="133.5" width="21" height="21" fill="#e6c9c9"/><rect x="569.5" y="133.5" width="21" height="21" fill="#5656f0"/><rect x="589.5" y="133.5" width="41" height="21" fill="#c2c2ec"/><rect x="629.5" y="133.5" width="41" height="21" fill="#e24848"/><rect x="389.5" y="153.5" width="41" height="21" fill="#e6c9c9"/><rect x="429.5" y="153.5" width="41" height="21" fill="#8686e2"/><rect x="469.5" y="153.5" width="21" height="21" fill="#dc9898"/><rect x="489.5" y="153.5" width="21" height="21" fill="#8686e2"/><rect x="509.5" y="153.5" width="21" height="21" fill="#6464aa"/><rect x="529.5" y="153.5" width="21" height="21" fill="#c2c2ec"/><rect x="549.5" y="153.5" width="21" height="21" fill="#8686e2"/><rect x="569.5" y="153.5" width="21" height="21" fill="#e6c9c9"/><rect x="589.5" y="153.5" width="41" height="21" fill="#c2c2ec"/><rect x="629.5" y="153.5" width="41" height="21" fill="#e24848"/><rect x="389.5" y="173.5" width="41" height="21" fill="#e0dddf"/><rect x="429.5" y="173.5" width="21" height="21" fill="#8686e2"/><rect x="449.5" y="173.5" width="21" height="21" fill="#6464aa"/><rect x="469.5" y="173.5" width="21" height="21" fill="#dc9898"/><rect x="489.5" y="173.5" width="21" height="21" fill="#6464aa"/><rect x="509.5" y="173.5" width="21" height="21" fill="#8686e2"/><rect x="529.5" y="173.5" width="121" height="21" fill="#c2c2ec"/><rect x="649.5" y="173.5" width="21" height="21" fill="#dc9898"/><rect x="389.5" y="193.5" width="41" height="21" fill="#8686e2"/><rect x="429.5" y="193.5" width="41" height="21" fill="#5656f0"/><rect x="469.5" y="193.5" width="21" height="21" fill="#1c16f4"/><rect x="489.5" y="193.5" width="21" height="21" fill="#6464aa"/><rect x="509.5" y="193.5" width="61" height="21" fill="#c2c2ec"/><rect x="569.5" y="193.5" width="21" height="21" fill="#8686e2"/><rect x="589.5" y="193.5" width="21" height="21" fill="#6464aa"/><rect x="609.5" y="193.5" width="61" height="21" fill="#c2c2ec"/><rect x="389.5" y="213.5" width="41" height="21" fill="#a06868"/><rect x="429.5" y="213.5" width="21" height="21" fill="#8686e2"/><rect x="449.5" y="213.5" width="21" height="21" fill="#5656f0"/><rect x="469.5" y="213.5" width="21" height="21" fill="#8686e2"/><rect x="489.5" y="213.5" width="41" height="21" fill="#6464aa"/><rect x="529.5" y="213.5" width="21" height="21" fill="#8686e2"/><rect x="549.5" y="213.5" width="21" height="21" fill="#c2c2ec"/><rect x="569.5" y="213.5" width="21" height="21" fill="#5656f0"/><rect x="589.5" y="213.5" width="21" height="21" fill="#8686e2"/><rect x="609.5" y="213.5" width="41" height="21" fill="#5656f0"/><rect x="649.5" y="213.5" width="21" height="21" fill="#c2c2ec"/><rect x="389.5" y="233.5" width="21" height="21" fill="#e0dddf"/><rect x="409.5" y="233.5" width="21" height="21" fill="#8686e2"/><rect x="429.5" y="233.5" width="41" height="21" fill="#c2c2ec"/><rect x="469.5" y="233.5" width="21" height="21" fill="#8686e2"/><rect x="489.5" y="233.5" width="41" height="21" fill="#e6c9c9"/><rect x="529.5" y="233.5" width="41" height="21" fill="#8686e2"/><rect x="569.5" y="233.5" width="21" height="21" fill="#5656f0"/><rect x="589.5" y="233.5" width="21" height="21" fill="#8686e2"/><rect x="609.5" y="233.5" width="41" height="21" fill="#a06868"/><rect x="649.5" y="233.5" width="21" height="21" fill="#e0dddf"/><rect x="389.5" y="253.5" width="21" height="21" fill="#e0dddf"/><rect x="409.5" y="253.5" width="21" height="21" fill="#8686e2"/><rect x="429.5" y="253.5" width="41" height="21" fill="#6464aa"/><rect x="469.5" y="253.5" width="21" height="21" fill="#c2c2ec"/><rect x="489.5" y="253.5" width="21" height="21" fill="#8686e2"/><rect x="509.5" y="253.5" width="21" height="21" fill="#e6c9c9"/><rect x="529.5" y="253.5" width="21" height="21" fill="#e0dddf"/><rect x="549.5" y="253.5" width="41" height="21" fill="#8686e2"/><rect x="589.5" y="253.5" width="81" height="21" fill="#e0dddf"/><rect x="389.5" y="273.5" width="21" height="21" fill="#e0dddf"/><rect x="409.5" y="273.5" width="21" height="21" fill="#8686e2"/><rect x="429.5" y="273.5" width="41" height="21" fill="#6464aa"/><rect x="469.5" y="273.5" width="21" height="21" fill="#c2c2ec"/><rect x="489.5" y="273.5" width="121" height="21" fill="#8686e2"/><rect x="609.5" y="273.5" width="61" height="21" fill="#e0dddf"/></g>
<g fill="#1a1a1a" filter="url(#bl5)"><circle cx="400" cy="184" r="12" fill-opacity="0.22"/><circle cx="420" cy="184" r="12" fill-opacity="0.22"/><circle cx="400" cy="244" r="12" fill-opacity="0.22"/><circle cx="660" cy="244" r="12" fill-opacity="0.22"/><circle cx="400" cy="264" r="12" fill-opacity="0.22"/><circle cx="540" cy="264" r="12" fill-opacity="0.22"/><circle cx="600" cy="264" r="12" fill-opacity="0.22"/><circle cx="620" cy="264" r="12" fill-opacity="0.22"/><circle cx="640" cy="264" r="12" fill-opacity="0.22"/><circle cx="660" cy="264" r="12" fill-opacity="0.22"/><circle cx="400" cy="284" r="12" fill-opacity="0.22"/><circle cx="620" cy="284" r="12" fill-opacity="0.22"/><circle cx="640" cy="284" r="12" fill-opacity="0.22"/><circle cx="660" cy="284" r="12" fill-opacity="0.22"/></g>
<g fill="none" stroke-linecap="round" filter="url(#bl4)"><path d="M502.0 164.0C501.0 167.5 496.0 179.0 496.0 185.0C496.0 191.0 497.5 195.8 502.0 200.0C506.5 204.2 514.8 207.2 523.0 210.0C531.2 212.8 542.8 215.8 551.0 217.0C559.2 218.2 568.5 217.0 572.0 217.0" stroke="#2a282a" stroke-opacity="0.75" stroke-width="7"/><path d="M583.0 203.0C585.8 204.0 595.3 206.2 600.0 209.0C604.7 211.8 608.2 216.8 611.0 220.0C613.8 223.2 616.0 226.7 617.0 228.0" stroke="#2a282a" stroke-opacity="0.65" stroke-width="5"/><path d="M450.0 140.0C451.2 146.3 454.8 165.7 457.0 178.0C459.2 190.3 462.0 208.0 463.0 214.0" stroke="#2e2c2e" stroke-opacity="0.5" stroke-width="6"/><path d="M468.0 154.0C469.7 158.3 474.7 171.8 478.0 180.0C481.3 188.2 486.3 199.2 488.0 203.0" stroke="#2e2c2e" stroke-opacity="0.45" stroke-width="5"/><path d="M506.0 109.0C507.7 112.3 512.0 122.2 516.0 129.0C520.0 135.8 527.7 146.5 530.0 150.0" stroke="#141440" stroke-opacity="0.7" stroke-width="3.5"/><path d="M537.0 129.0C542.8 129.2 560.3 127.7 572.0 130.0C583.7 132.3 601.2 140.8 607.0 143.0" stroke="#3c3a3c" stroke-opacity="0.3" stroke-width="3"/><path d="M600.0 250.0C605.0 251.0 620.7 255.2 630.0 256.0C639.3 256.8 651.7 255.2 656.0 255.0" stroke="#2e2c2e" stroke-opacity="0.35" stroke-width="8"/></g>
<rect x="390" y="94" width="280" height="200" fill="url(#shd)"/>
<use href="#sLR" fill="none" stroke="#000" stroke-opacity="0.4" stroke-width="5" filter="url(#bl2)"/>
</g>
<g clip-path="url(#cML)">
<rect x="88" y="312" width="280" height="200" fill="#d8d2d4"/>
<g filter="url(#bl)"><rect x="107.5" y="311.5" width="81" height="21" fill="#8686e2"/><rect x="187.5" y="311.5" width="21" height="21" fill="#c2c2ec"/><rect x="207.5" y="311.5" width="21" height="21" fill="#8686e2"/><rect x="227.5" y="311.5" width="41" height="21" fill="#c2c2ec"/><rect x="267.5" y="311.5" width="101" height="21" fill="#8686e2"/><rect x="87.5" y="331.5" width="81" height="21" fill="#e0dddf"/><rect x="167.5" y="331.5" width="21" height="21" fill="#e6c9c9"/><rect x="187.5" y="331.5" width="41" height="21" fill="#8686e2"/><rect x="227.5" y="331.5" width="41" height="21" fill="#e6c9c9"/><rect x="267.5" y="331.5" width="21" height="21" fill="#c2c2ec"/><rect x="287.5" y="331.5" width="81" height="21" fill="#8686e2"/><rect x="87.5" y="351.5" width="81" height="21" fill="#c2c2ec"/><rect x="167.5" y="351.5" width="21" height="21" fill="#5656f0"/><rect x="187.5" y="351.5" width="21" height="21" fill="#8686e2"/><rect x="207.5" y="351.5" width="21" height="21" fill="#a06868"/><rect x="227.5" y="351.5" width="21" height="21" fill="#e6c9c9"/><rect x="247.5" y="351.5" width="21" height="21" fill="#a06868"/><rect x="267.5" y="351.5" width="21" height="21" fill="#dc9898"/><rect x="287.5" y="351.5" width="81" height="21" fill="#8686e2"/><rect x="87.5" y="371.5" width="41" height="21" fill="#e0dddf"/><rect x="127.5" y="371.5" width="21" height="21" fill="#a06868"/><rect x="147.5" y="371.5" width="21" height="21" fill="#e0dddf"/><rect x="167.5" y="371.5" width="21" height="21" fill="#5656f0"/><rect x="187.5" y="371.5" width="21" height="21" fill="#8686e2"/><rect x="207.5" y="371.5" width="41" height="21" fill="#5656f0"/><rect x="247.5" y="371.5" width="61" height="21" fill="#c2c2ec"/><rect x="307.5" y="371.5" width="61" height="21" fill="#8686e2"/><rect x="87.5" y="391.5" width="21" height="21" fill="#8686e2"/><rect x="107.5" y="391.5" width="21" height="21" fill="#e0dddf"/><rect x="127.5" y="391.5" width="21" height="21" fill="#dc9898"/><rect x="147.5" y="391.5" width="21" height="21" fill="#a06868"/><rect x="167.5" y="391.5" width="21" height="21" fill="#8686e2"/><rect x="187.5" y="391.5" width="81" height="21" fill="#e0dddf"/><rect x="267.5" y="391.5" width="21" height="21" fill="#e6c9c9"/><rect x="287.5" y="391.5" width="41" height="21" fill="#c2c2ec"/><rect x="327.5" y="391.5" width="21" height="21" fill="#8686e2"/><rect x="347.5" y="391.5" width="21" height="21" fill="#dc9898"/><rect x="87.5" y="411.5" width="41" height="21" fill="#8686e2"/><rect x="127.5" y="411.5" width="21" height="21" fill="#5656f0"/><rect x="147.5" y="411.5" width="141" height="21" fill="#e0dddf"/><rect x="287.5" y="411.5" width="21" height="21" fill="#c2c2ec"/><rect x="307.5" y="411.5" width="21" height="21" fill="#8686e2"/><rect x="327.5" y="411.5" width="41" height="21" fill="#e6c9c9"/><rect x="87.5" y="431.5" width="21" height="21" fill="#8686e2"/><rect x="107.5" y="431.5" width="41" height="21" fill="#1c16f4"/><rect x="147.5" y="431.5" width="21" height="21" fill="#8686e2"/><rect x="167.5" y="431.5" width="121" height="21" fill="#e0dddf"/><rect x="287.5" y="431.5" width="41" height="21" fill="#5656f0"/><rect x="327.5" y="431.5" width="21" height="21" fill="#8686e2"/><rect x="347.5" y="431.5" width="21" height="21" fill="#e6c9c9"/><rect x="87.5" y="451.5" width="41" height="21" fill="#6464aa"/><rect x="127.5" y="451.5" width="21" height="21" fill="#e0dddf"/><rect x="147.5" y="451.5" width="21" height="21" fill="#e6c9c9"/><rect x="167.5" y="451.5" width="21" height="21" fill="#8686e2"/><rect x="187.5" y="451.5" width="81" height="21" fill="#e0dddf"/><rect x="267.5" y="451.5" width="61" height="21" fill="#5656f0"/><rect x="327.5" y="451.5" width="41" height="21" fill="#c2c2ec"/><rect x="87.5" y="471.5" width="41" height="21" fill="#6464aa"/><rect x="127.5" y="471.5" width="21" height="21" fill="#e0dddf"/><rect x="147.5" y="471.5" width="41" height="21" fill="#6464aa"/><rect x="187.5" y="471.5" width="21" height="21" fill="#8686e2"/><rect x="207.5" y="471.5" width="41" height="21" fill="#e0dddf"/><rect x="247.5" y="471.5" width="61" height="21" fill="#8686e2"/><rect x="307.5" y="471.5" width="21" height="21" fill="#5656f0"/><rect x="327.5" y="471.5" width="41" height="21" fill="#c2c2ec"/><rect x="87.5" y="491.5" width="41" height="21" fill="#6464aa"/><rect x="127.5" y="491.5" width="21" height="21" fill="#e0dddf"/><rect x="147.5" y="491.5" width="41" height="21" fill="#6464aa"/><rect x="187.5" y="491.5" width="21" height="21" fill="#8686e2"/><rect x="207.5" y="491.5" width="41" height="21" fill="#6464aa"/><rect x="247.5" y="491.5" width="21" height="21" fill="#5656f0"/><rect x="267.5" y="491.5" width="61" height="21" fill="#8686e2"/><rect x="327.5" y="491.5" width="41" height="21" fill="#c2c2ec"/></g>
<g fill="#1a1a1a" filter="url(#bl5)"><circle cx="158" cy="422" r="12" fill-opacity="0.5"/><circle cx="178" cy="422" r="12" fill-opacity="0.22"/><circle cx="178" cy="442" r="12" fill-opacity="0.5"/><circle cx="198" cy="442" r="12" fill-opacity="0.5"/><circle cx="218" cy="442" r="12" fill-opacity="0.5"/><circle cx="238" cy="442" r="12" fill-opacity="0.22"/><circle cx="218" cy="462" r="12" fill-opacity="0.5"/><circle cx="238" cy="462" r="12" fill-opacity="0.5"/><circle cx="258" cy="462" r="12" fill-opacity="0.5"/></g>
<use href="#wML" fill="url(#mwg)" filter="url(#bl3)"/>
<g fill="none" stroke-linecap="round" filter="url(#bl3)"><path d="M132.0 357.0C135.0 361.7 144.3 376.2 150.0 385.0C155.7 393.8 160.3 402.5 166.0 410.0C171.7 417.5 181.0 426.7 184.0 430.0" stroke="#3a3a3a" stroke-opacity="0.8" stroke-width="5"/><path d="M184.0 430.0C189.0 432.0 204.3 438.2 214.0 442.0C223.7 445.8 232.7 449.8 242.0 453.0C251.3 456.2 260.7 459.2 270.0 461.0C279.3 462.8 290.0 463.8 298.0 464.0C306.0 464.2 314.7 462.3 318.0 462.0" stroke="#4a4a4a" stroke-opacity="0.9" stroke-width="11"/><path d="M120.0 452.0C125.0 452.3 140.0 453.3 150.0 454.0C160.0 454.7 170.5 452.8 180.0 456.0C189.5 459.2 199.0 467.5 207.0 473.0C215.0 478.5 220.5 484.0 228.0 489.0C235.5 494.0 248.0 500.7 252.0 503.0" stroke="#3a3a3a" stroke-opacity="0.6" stroke-width="4"/><path d="M205.0 467.0C209.2 469.0 221.5 474.8 230.0 479.0C238.5 483.2 251.7 489.8 256.0 492.0" stroke="#f6f6f6" stroke-opacity="0.7" stroke-width="5"/></g>
<rect x="88" y="312" width="280" height="200" fill="url(#shd)"/>
<use href="#sML" fill="none" stroke="#000" stroke-opacity="0.4" stroke-width="5" filter="url(#bl2)"/>
</g>
<g clip-path="url(#cMR)">
<rect x="390" y="312" width="280" height="200" fill="#d8d2d4"/>
<g filter="url(#bl)"><rect x="389.5" y="311.5" width="121" height="21" fill="#c2c2ec"/><rect x="509.5" y="311.5" width="21" height="21" fill="#e6c9c9"/><rect x="529.5" y="311.5" width="21" height="21" fill="#c2c2ec"/><rect x="549.5" y="311.5" width="21" height="21" fill="#5656f0"/><rect x="569.5" y="311.5" width="101" height="21" fill="#8686e2"/><rect x="389.5" y="331.5" width="121" height="21" fill="#c2c2ec"/><rect x="509.5" y="331.5" width="21" height="21" fill="#6464aa"/><rect x="529.5" y="331.5" width="21" height="21" fill="#e6c9c9"/><rect x="549.5" y="331.5" width="121" height="21" fill="#8686e2"/><rect x="389.5" y="351.5" width="81" height="21" fill="#c2c2ec"/><rect x="469.5" y="351.5" width="21" height="21" fill="#5656f0"/><rect x="489.5" y="351.5" width="21" height="21" fill="#c2c2ec"/><rect x="509.5" y="351.5" width="21" height="21" fill="#6464aa"/><rect x="529.5" y="351.5" width="21" height="21" fill="#c2c2ec"/><rect x="549.5" y="351.5" width="21" height="21" fill="#8686e2"/><rect x="569.5" y="351.5" width="21" height="21" fill="#c2c2ec"/><rect x="589.5" y="351.5" width="21" height="21" fill="#8686e2"/><rect x="609.5" y="351.5" width="61" height="21" fill="#e6c9c9"/><rect x="389.5" y="371.5" width="41" height="21" fill="#c2c2ec"/><rect x="429.5" y="371.5" width="61" height="21" fill="#5656f0"/><rect x="489.5" y="371.5" width="21" height="21" fill="#c2c2ec"/><rect x="509.5" y="371.5" width="21" height="21" fill="#8686e2"/><rect x="529.5" y="371.5" width="21" height="21" fill="#5656f0"/><rect x="549.5" y="371.5" width="41" height="21" fill="#8686e2"/><rect x="589.5" y="371.5" width="21" height="21" fill="#e6c9c9"/><rect x="609.5" y="371.5" width="21" height="21" fill="#e0dddf"/><rect x="629.5" y="371.5" width="41" height="21" fill="#e6c9c9"/><rect x="389.5" y="391.5" width="41" height="21" fill="#c2c2ec"/><rect x="429.5" y="391.5" width="41" height="21" fill="#5656f0"/><rect x="469.5" y="391.5" width="101" height="21" fill="#e0dddf"/><rect x="569.5" y="391.5" width="41" height="21" fill="#8686e2"/><rect x="609.5" y="391.5" width="21" height="21" fill="#e0dddf"/><rect x="629.5" y="391.5" width="41" height="21" fill="#e6c9c9"/><rect x="389.5" y="411.5" width="41" height="21" fill="#c2c2ec"/><rect x="429.5" y="411.5" width="21" height="21" fill="#5656f0"/><rect x="449.5" y="411.5" width="121" height="21" fill="#e0dddf"/><rect x="569.5" y="411.5" width="21" height="21" fill="#c2c2ec"/><rect x="589.5" y="411.5" width="21" height="21" fill="#8686e2"/><rect x="609.5" y="411.5" width="21" height="21" fill="#24248c"/><rect x="629.5" y="411.5" width="21" height="21" fill="#6464aa"/><rect x="649.5" y="411.5" width="21" height="21" fill="#e6c9c9"/><rect x="389.5" y="431.5" width="81" height="21" fill="#5656f0"/><rect x="469.5" y="431.5" width="121" height="21" fill="#e0dddf"/><rect x="589.5" y="431.5" width="61" height="21" fill="#8686e2"/><rect x="649.5" y="431.5" width="21" height="21" fill="#c2c2ec"/><rect x="389.5" y="451.5" width="81" height="21" fill="#5656f0"/><rect x="469.5" y="451.5" width="21" height="21" fill="#8686e2"/><rect x="489.5" y="451.5" width="61" height="21" fill="#e0dddf"/><rect x="549.5" y="451.5" width="21" height="21" fill="#8686e2"/><rect x="569.5" y="451.5" width="61" height="21" fill="#e0dddf"/><rect x="629.5" y="451.5" width="41" height="21" fill="#6464aa"/><rect x="389.5" y="471.5" width="61" height="21" fill="#8686e2"/><rect x="449.5" y="471.5" width="21" height="21" fill="#5656f0"/><rect x="469.5" y="471.5" width="21" height="21" fill="#8686e2"/><rect x="489.5" y="471.5" width="41" height="21" fill="#e0dddf"/><rect x="529.5" y="471.5" width="21" height="21" fill="#5656f0"/><rect x="549.5" y="471.5" width="21" height="21" fill="#8686e2"/><rect x="569.5" y="471.5" width="21" height="21" fill="#5656f0"/><rect x="589.5" y="471.5" width="81" height="21" fill="#6464aa"/><rect x="389.5" y="491.5" width="101" height="21" fill="#8686e2"/><rect x="489.5" y="491.5" width="21" height="21" fill="#5656f0"/><rect x="509.5" y="491.5" width="61" height="21" fill="#8686e2"/><rect x="569.5" y="491.5" width="21" height="21" fill="#5656f0"/><rect x="589.5" y="491.5" width="81" height="21" fill="#6464aa"/></g>
<g fill="#1a1a1a" filter="url(#bl5)"><circle cx="560" cy="442" r="12" fill-opacity="0.5"/><circle cx="580" cy="442" r="12" fill-opacity="0.22"/><circle cx="500" cy="462" r="12" fill-opacity="0.5"/><circle cx="520" cy="462" r="12" fill-opacity="0.5"/><circle cx="540" cy="462" r="12" fill-opacity="0.5"/><circle cx="620" cy="462" r="12" fill-opacity="0.22"/></g>
<use href="#wMR" fill="url(#mwg)" filter="url(#bl3)"/>
<g fill="none" stroke-linecap="round" filter="url(#bl3)"><path d="M470.0 462.0C475.0 462.5 490.0 465.2 500.0 465.0C510.0 464.8 520.8 463.3 530.0 461.0C539.2 458.7 548.0 454.5 555.0 451.0C562.0 447.5 569.2 441.8 572.0 440.0" stroke="#4a4a4a" stroke-opacity="0.9" stroke-width="11"/><path d="M572.0 440.0C575.0 436.7 584.2 426.2 590.0 420.0C595.8 413.8 600.7 412.8 607.0 403.0C613.3 393.2 624.5 368.0 628.0 361.0" stroke="#3a3a3a" stroke-opacity="0.6" stroke-width="4"/><path d="M553.0 468.0C557.5 466.3 570.5 460.7 580.0 458.0C589.5 455.3 599.2 453.0 610.0 452.0C620.8 451.0 639.2 452.0 645.0 452.0" stroke="#3a3a3a" stroke-opacity="0.5" stroke-width="4"/><path d="M505.0 484.0C508.7 481.7 519.8 474.3 527.0 470.0C534.2 465.7 544.5 460.0 548.0 458.0" stroke="#f6f6f6" stroke-opacity="0.7" stroke-width="5"/></g>
<rect x="390" y="312" width="280" height="200" fill="url(#shd)"/>
<use href="#sMR" fill="none" stroke="#000" stroke-opacity="0.4" stroke-width="5" filter="url(#bl2)"/>
</g>
</g>
<text x="3" y="49" font-size="66.5">A</text>
<text x="382.3" y="62.5" text-anchor="middle" font-size="46">SZ0W</text>
<text x="1042.6" y="62.5" text-anchor="middle" font-size="46">SZ12W</text>
<text x="1717.5" y="62.9" text-anchor="middle" font-size="46.2">SZ0W vs SZ12W</text>
<text x="82.7" y="105" font-size="26" font-weight="bold">L</text>
<text x="659.2" y="105" font-size="26" font-weight="bold">R</text>
<text x="747.2" y="105" font-size="26" font-weight="bold">L</text>
<text x="1324.5" y="105" font-size="26" font-weight="bold">R</text>
<text x="1407.6000000000001" y="109.2" font-size="26" font-weight="bold">L</text>
<text x="1977.2" y="109.2" font-size="26" font-weight="bold">R</text>
<path d="M1382 27.5L1379 554" stroke="#9a9a9a" stroke-width="3" stroke-dasharray="37.5 14.8" stroke-dashoffset="18.5" fill="none"/>
<defs>
<linearGradient id="cb1" x1="0" x2="1" y1="0" y2="0">
<stop offset="0" stop-color="#1800ff"/><stop offset="0.04" stop-color="#1a00ff"/><stop offset="0.16" stop-color="#7878ff"/><stop offset="0.317" stop-color="#f2f2ee"/><stop offset="0.5" stop-color="#eab4b4"/><stop offset="0.66" stop-color="#e47474"/><stop offset="0.95" stop-color="#fb2a22"/><stop offset="1" stop-color="#ff2010"/></linearGradient>
<linearGradient id="cb2" x1="0" x2="1" y1="0" y2="0">
<stop offset="0" stop-color="#1800ff"/><stop offset="0.05" stop-color="#1a00ff"/><stop offset="0.23" stop-color="#6c6cff"/><stop offset="0.4" stop-color="#b8b8f0"/><stop offset="0.52" stop-color="#f2f2ee"/><stop offset="0.65" stop-color="#ebb0b0"/><stop offset="0.77" stop-color="#e46868"/><stop offset="0.95" stop-color="#fb2a22"/><stop offset="1" stop-color="#ff2010"/></linearGradient>
</defs>
<rect x="576.5" y="572.5" width="245" height="26.5" fill="url(#cb1)" stroke="#222" stroke-width="1.5"/>
<path d="M654 572.5v2.5M654 599v-2.5" stroke="#222" stroke-width="1.5"/>
<path d="M736 572.5v2.5M736 599v-2.5" stroke="#222" stroke-width="1.5"/>
<text x="709.3" y="563" text-anchor="middle" font-size="37.8">MSD</text>
<text x="839.5" y="597" font-size="37.3">(z-score)</text>
<text x="567.6" y="642.5" text-anchor="middle" font-size="33">-1.9</text>
<text x="652.8" y="642.5" text-anchor="middle" font-size="33">0</text>
<text x="811.6" y="638.3" text-anchor="middle" font-size="33">4.1</text>
<rect x="1588.2" y="559.8" width="229" height="22.4" fill="url(#cb2)" stroke="#222" stroke-width="1.5"/>
<path d="M1640.5 559.8v2.5M1640.5 582.2v-2.5" stroke="#222" stroke-width="1.5"/>
<path d="M1706.9 559.8v2.5M1706.9 582.2v-2.5" stroke="#222" stroke-width="1.5"/>
<path d="M1773.3 559.8v2.5M1773.3 582.2v-2.5" stroke="#222" stroke-width="1.5"/>
<text x="1703.4" y="548.3" text-anchor="middle" font-size="37.5">t-value</text>
<text x="1577.6" y="627" text-anchor="middle" font-size="33.5">-3.6</text>
<text x="1707.2" y="627" text-anchor="middle" font-size="33.5">0</text>
<text x="1822.8" y="627" text-anchor="middle" font-size="33.5">3.3</text>
<path d="M156 722V1408.5H1961" stroke="#000" stroke-width="6.5" fill="none" stroke-linejoin="miter"/>
<path d="M137 725H156" stroke="#000" stroke-width="6.5"/>
<text x="129" y="739" text-anchor="end" font-size="41">0.4</text>
<path d="M137 920H156" stroke="#000" stroke-width="6.5"/>
<text x="129" y="934" text-anchor="end" font-size="41">0.3</text>
<path d="M137 1115.4H156" stroke="#000" stroke-width="6.5"/>
<text x="129" y="1129.4" text-anchor="end" font-size="41">0.2</text>
<path d="M137 1310H156" stroke="#000" stroke-width="6.5"/>
<text x="129" y="1324" text-anchor="end" font-size="41">0.1</text>
<path d="M268 1408H268V1427" stroke="#000" stroke-width="6.5"/>
<text x="264.5" y="1483.5" text-anchor="middle" font-size="46.2">Whole brain</text>
<path d="M225.7 899.7V989.6M225.7 1088.9V1191.6M212.2 899.7H239.2M212.2 1191.6H239.2" stroke="#D8601F" stroke-width="6.2" fill="none"/><rect x="198.4" y="989.6" width="55.7" height="99.3" stroke="#D8601F" stroke-width="6.2" fill="none" stroke-linejoin="round"/><path d="M198.4 1050H254.1" stroke="#D8601F" stroke-width="6.2"/><g fill="#D8601F"><circle cx="225.7" cy="899.7" r="8.2"/><circle cx="225.7" cy="928" r="8.2"/><circle cx="236" cy="953.4" r="8.2"/><circle cx="205" cy="961.4" r="8.2"/><circle cx="215.4" cy="978.5" r="8.2"/><circle cx="236" cy="984" r="8.2"/><circle cx="207.4" cy="999" r="8.2"/><circle cx="244" cy="999" r="8.2"/><circle cx="225.7" cy="1014" r="8.2"/><circle cx="207.4" cy="1035.6" r="8.2"/><circle cx="244" cy="1031" r="8.2"/><circle cx="225.7" cy="1044.7" r="8.2"/><circle cx="236" cy="1056" r="8.2"/><circle cx="215.4" cy="1068.7" r="8.2"/><circle cx="244" cy="1074" r="8.2"/><circle cx="207.4" cy="1081" r="8.2"/><circle cx="232.5" cy="1081" r="8.2"/><circle cx="225.7" cy="1089" r="8.2"/><circle cx="225.7" cy="1116.7" r="8.2"/><circle cx="244" cy="1150" r="8.2"/><circle cx="207.4" cy="1158" r="8.2"/><circle cx="225.7" cy="1162" r="8.2"/><circle cx="225.7" cy="1191.6" r="8.2"/></g>
<path d="M310.7 968.2V1042.1M310.7 1103.3V1166.5M297.2 968.2H324.2M297.2 1166.5H324.2" stroke="#4382BE" stroke-width="6.2" fill="none"/><rect x="282.9" y="1042.1" width="55.5" height="61.2" stroke="#4382BE" stroke-width="6.2" fill="none" stroke-linejoin="round"/><path d="M282.9 1076.7H338.4" stroke="#4382BE" stroke-width="6.2"/><g fill="#4382BE"><circle cx="310.7" cy="968.2" r="8.2"/><circle cx="310.7" cy="1015" r="8.2"/><circle cx="330.8" cy="1023" r="8.2"/><circle cx="289.6" cy="1034.5" r="8.2"/><circle cx="317" cy="1034.5" r="8.2"/><circle cx="301" cy="1052.7" r="8.2"/><circle cx="321.6" cy="1059.6" r="8.2"/><circle cx="296.5" cy="1066.4" r="8.2"/><circle cx="326" cy="1066.4" r="8.2"/><circle cx="292" cy="1089" r="8.2"/><circle cx="328.5" cy="1089" r="8.2"/><circle cx="310.7" cy="1100.7" r="8.2"/><circle cx="300" cy="1095" r="8.2"/><circle cx="289.6" cy="1131.5" r="8.2"/><circle cx="330.8" cy="1134" r="8.2"/><circle cx="304.5" cy="1140.7" r="8.2"/><circle cx="317" cy="1140.7" r="8.2"/><circle cx="310.7" cy="1166.5" r="8.2"/></g>
<path d="M224.6 849.8H318" stroke="#000" stroke-width="7.2"/>
<text x="271" y="845.5" text-anchor="middle" font-size="42" style="font-family:IPAGothic,sans-serif">*</text>
<path d="M493.5 1408H493.5V1427" stroke="#000" stroke-width="6.5"/>
<text x="488.3" y="1483.5" text-anchor="middle" font-size="46.2">Vis</text>
<path d="M451.4 970.5V1012.4M451.4 1120.4V1194.4M437.9 970.5H464.9M437.9 1194.4H464.9" stroke="#D8601F" stroke-width="6.2" fill="none"/><rect x="424.1" y="1012.4" width="55.5" height="108" stroke="#D8601F" stroke-width="6.2" fill="none" stroke-linejoin="round"/><path d="M424.1 1058.4H479.6" stroke="#D8601F" stroke-width="6.2"/><g fill="#D8601F"><circle cx="424.4" cy="975" r="8.2"/><circle cx="470" cy="970.5" r="8.2"/><circle cx="451.8" cy="986.5" r="8.2"/><circle cx="433.5" cy="992" r="8.2"/><circle cx="470" cy="1003.6" r="8.2"/><circle cx="451.8" cy="1009" r="8.2"/><circle cx="431.3" cy="1022" r="8.2"/><circle cx="471" cy="1028.7" r="8.2"/><circle cx="433.5" cy="1040" r="8.2"/><circle cx="445" cy="1038" r="8.2"/><circle cx="457.5" cy="1038" r="8.2"/><circle cx="470" cy="1056" r="8.2"/><circle cx="451.8" cy="1060.7" r="8.2"/><circle cx="441.5" cy="1091.6" r="8.2"/><circle cx="461" cy="1096" r="8.2"/><circle cx="433.5" cy="1107.5" r="8.2"/><circle cx="445" cy="1113" r="8.2"/><circle cx="469" cy="1110" r="8.2"/><circle cx="458.7" cy="1121" r="8.2"/><circle cx="451.8" cy="1123.5" r="8.2"/><circle cx="441.5" cy="1153" r="8.2"/><circle cx="461" cy="1161" r="8.2"/><circle cx="461" cy="1182" r="8.2"/><circle cx="441.5" cy="1194.4" r="8.2"/></g>
<path d="M536.3 979.6V1068.4M536.3 1128.4V1160M522.8 979.6H549.8M522.8 1160H549.8" stroke="#4382BE" stroke-width="6.2" fill="none"/><rect x="508.6" y="1068.4" width="55.5" height="60" stroke="#4382BE" stroke-width="6.2" fill="none" stroke-linejoin="round"/><path d="M508.6 1100H564.1" stroke="#4382BE" stroke-width="6.2"/><g fill="#4382BE"><circle cx="536.3" cy="979.6" r="8.2"/><circle cx="518" cy="1015" r="8.2"/><circle cx="554.6" cy="1031" r="8.2"/><circle cx="536.3" cy="1035.6" r="8.2"/><circle cx="518" cy="1064" r="8.2"/><circle cx="554.6" cy="1059.6" r="8.2"/><circle cx="536.3" cy="1075.6" r="8.2"/><circle cx="527" cy="1068" r="8.2"/><circle cx="545" cy="1068" r="8.2"/><circle cx="560" cy="1090" r="8.2"/><circle cx="508" cy="1094" r="8.2"/><circle cx="518" cy="1092.7" r="8.2"/><circle cx="531.8" cy="1098.4" r="8.2"/><circle cx="554.6" cy="1096" r="8.2"/><circle cx="542" cy="1103" r="8.2"/><circle cx="518" cy="1121" r="8.2"/><circle cx="554.6" cy="1121" r="8.2"/><circle cx="536.3" cy="1137" r="8.2"/><circle cx="528" cy="1126" r="8.2"/><circle cx="545.5" cy="1128" r="8.2"/><circle cx="518" cy="1155.5" r="8.2"/><circle cx="536.3" cy="1160" r="8.2"/><circle cx="554.6" cy="1159" r="8.2"/></g>
<path d="M450 918.5H543.6" stroke="#000" stroke-width="7.2"/>
<text x="498.6" y="911.5" text-anchor="middle" font-size="42" style="font-family:IPAGothic,sans-serif">*</text>
<path d="M719 1408H719V1427" stroke="#000" stroke-width="6.5"/>
<text x="719.8" y="1483.5" text-anchor="middle" font-size="46.2">SomMot</text>
<path d="M677.5 833.5V983.9M677.5 1092.7V1192.5M664 833.5H691M664 1192.5H691" stroke="#D8601F" stroke-width="6.2" fill="none"/><rect x="649.7" y="983.9" width="55.8" height="108.8" stroke="#D8601F" stroke-width="6.2" fill="none" stroke-linejoin="round"/><path d="M649.7 1044H705.5" stroke="#D8601F" stroke-width="6.2"/><g fill="#D8601F"><circle cx="677.5" cy="831" r="8.2"/><circle cx="687.5" cy="867.4" r="8.2"/><circle cx="667" cy="884.6" r="8.2"/><circle cx="677.5" cy="961" r="8.2"/><circle cx="658.7" cy="974.8" r="8.2"/><circle cx="677.5" cy="982" r="8.2"/><circle cx="695" cy="982" r="8.2"/><circle cx="658.7" cy="1029" r="8.2"/><circle cx="677.5" cy="1023" r="8.2"/><circle cx="695" cy="1030.7" r="8.2"/><circle cx="677.5" cy="1042.8" r="8.2"/><circle cx="695" cy="1058" r="8.2"/><circle cx="658.7" cy="1070" r="8.2"/><circle cx="677.5" cy="1076" r="8.2"/><circle cx="695" cy="1085" r="8.2"/><circle cx="672" cy="1098.8" r="8.2"/><circle cx="684.5" cy="1095.8" r="8.2"/><circle cx="667" cy="1162" r="8.2"/><circle cx="687.5" cy="1170" r="8.2"/><circle cx="667" cy="1191" r="8.2"/><circle cx="687.5" cy="1191" r="8.2"/></g>
<path d="M762.2 947.5V1042.9M762.2 1112.3V1169.9M748.7 947.5H775.7M748.7 1169.9H775.7" stroke="#4382BE" stroke-width="6.2" fill="none"/><rect x="734.4" y="1042.9" width="55.2" height="69.4" stroke="#4382BE" stroke-width="6.2" fill="none" stroke-linejoin="round"/><path d="M734.4 1074H789.6" stroke="#4382BE" stroke-width="6.2"/><g fill="#4382BE"><circle cx="762.2" cy="947.5" r="8.2"/><circle cx="743.4" cy="1040" r="8.2"/><circle cx="780.3" cy="1045" r="8.2"/><circle cx="751" cy="1105" r="8.2"/><circle cx="772" cy="1098" r="8.2"/><circle cx="743.4" cy="1002" r="8.2"/><circle cx="780.3" cy="1003.5" r="8.2"/><circle cx="762.2" cy="1012.6" r="8.2"/><circle cx="751" cy="1027.7" r="8.2"/><circle cx="772" cy="1036.8" r="8.2"/><circle cx="743.4" cy="1052" r="8.2"/><circle cx="780.3" cy="1055" r="8.2"/><circle cx="762.2" cy="1064" r="8.2"/><circle cx="743.4" cy="1076" r="8.2"/><circle cx="780.3" cy="1074.6" r="8.2"/><circle cx="762.2" cy="1091" r="8.2"/><circle cx="743.4" cy="1097" r="8.2"/><circle cx="780.3" cy="1107.8" r="8.2"/><circle cx="751" cy="1115.4" r="8.2"/><circle cx="772" cy="1117" r="8.2"/><circle cx="772" cy="1141" r="8.2"/><circle cx="743.4" cy="1151.7" r="8.2"/><circle cx="780.3" cy="1165.3" r="8.2"/><circle cx="762.2" cy="1169.9" r="8.2"/></g>
<path d="M673.9 800.8H766" stroke="#000" stroke-width="7.2"/>
<text x="719" y="793.5" text-anchor="middle" font-size="42" style="font-family:IPAGothic,sans-serif">*</text>
<path d="M944.5 1408H944.5V1427" stroke="#000" stroke-width="6.5"/>
<text x="939.5" y="1483.5" text-anchor="middle" font-size="46.2">DorsAttn</text>
<path d="M903.4 858.7V959.8M903.4 1049V1144.8M889.9 858.7H916.9M889.9 1144.8H916.9" stroke="#D8601F" stroke-width="6.2" fill="none"/><rect x="875.6" y="959.8" width="55.6" height="89.2" stroke="#D8601F" stroke-width="6.2" fill="none" stroke-linejoin="round"/><path d="M875.6 1005H931.2" stroke="#D8601F" stroke-width="6.2"/><g fill="#D8601F"><circle cx="892.6" cy="856" r="8.2"/><circle cx="912.8" cy="858.7" r="8.2"/><circle cx="903.4" cy="915" r="8.2"/><circle cx="892.6" cy="935" r="8.2"/><circle cx="912.8" cy="939" r="8.2"/><circle cx="881.9" cy="960.8" r="8.2"/><circle cx="924.9" cy="958" r="8.2"/><circle cx="910" cy="967.5" r="8.2"/><circle cx="895.3" cy="975.5" r="8.2"/><circle cx="881.9" cy="993" r="8.2"/><circle cx="895.3" cy="998.4" r="8.2"/><circle cx="910" cy="1001" r="8.2"/><circle cx="924.9" cy="997" r="8.2"/><circle cx="881.9" cy="1013" r="8.2"/><circle cx="895.3" cy="1020" r="8.2"/><circle cx="918" cy="1017" r="8.2"/><circle cx="903.4" cy="1032" r="8.2"/><circle cx="903.4" cy="1056" r="8.2"/><circle cx="884.5" cy="1072" r="8.2"/><circle cx="920.8" cy="1075" r="8.2"/><circle cx="903.4" cy="1079" r="8.2"/><circle cx="903.4" cy="1120.6" r="8.2"/><circle cx="903.4" cy="1144.8" r="8.2"/></g>
<path d="M987.2 921.8V997.4M987.2 1065.1V1124.6M973.7 921.8H1000.7M973.7 1124.6H1000.7" stroke="#4382BE" stroke-width="6.2" fill="none"/><rect x="960.1" y="997.4" width="54.3" height="67.7" stroke="#4382BE" stroke-width="6.2" fill="none" stroke-linejoin="round"/><path d="M960.1 1033H1014.4" stroke="#4382BE" stroke-width="6.2"/><g fill="#4382BE"><circle cx="978.6" cy="928.5" r="8.2"/><circle cx="987.2" cy="920.5" r="8.2"/><circle cx="1005" cy="1040" r="8.2"/><circle cx="965" cy="1030" r="8.2"/><circle cx="997" cy="1050" r="8.2"/><circle cx="975" cy="1072" r="8.2"/><circle cx="1008" cy="1082" r="8.2"/><circle cx="997.4" cy="946" r="8.2"/><circle cx="975.9" cy="985" r="8.2"/><circle cx="997.4" cy="982" r="8.2"/><circle cx="965" cy="997" r="8.2"/><circle cx="1008" cy="998.4" r="8.2"/><circle cx="970.5" cy="1015.8" r="8.2"/><circle cx="994.7" cy="1013" r="8.2"/><circle cx="981.3" cy="1025" r="8.2"/><circle cx="1005.5" cy="1028" r="8.2"/><circle cx="965" cy="1049.4" r="8.2"/><circle cx="986.6" cy="1057.5" r="8.2"/><circle cx="970.5" cy="1060" r="8.2"/><circle cx="1005.5" cy="1067" r="8.2"/><circle cx="986.6" cy="1079" r="8.2"/><circle cx="977.2" cy="1085.7" r="8.2"/><circle cx="1006.8" cy="1101.8" r="8.2"/><circle cx="997.4" cy="1110" r="8.2"/><circle cx="977.2" cy="1123.3" r="8.2"/></g>
<path d="M899.3 818.3H992" stroke="#000" stroke-width="7.2"/>
<text x="946.3" y="811.0" text-anchor="middle" font-size="42" style="font-family:IPAGothic,sans-serif">*</text>
<path d="M1170 1408H1170V1427" stroke="#000" stroke-width="6.5"/>
<text x="1174" y="1483.5" text-anchor="middle" font-size="46.2">SalVentAttn</text>
<path d="M1128.5 915.1V1013.9M1128.5 1117.7V1202M1115 915.1H1142M1115 1202H1142" stroke="#D8601F" stroke-width="6.2" fill="none"/><rect x="1100.9" y="1013.9" width="54.6" height="103.8" stroke="#D8601F" stroke-width="6.2" fill="none" stroke-linejoin="round"/><path d="M1100.9 1046H1155.5" stroke="#D8601F" stroke-width="6.2"/><g fill="#D8601F"><circle cx="1107.5" cy="923" r="8.2"/><circle cx="1139" cy="915" r="8.2"/><circle cx="1119.3" cy="941.3" r="8.2"/><circle cx="1139" cy="950.5" r="8.2"/><circle cx="1107.5" cy="1012" r="8.2"/><circle cx="1149.4" cy="1005.5" r="8.2"/><circle cx="1122" cy="1017.3" r="8.2"/><circle cx="1139" cy="1017.3" r="8.2"/><circle cx="1149.4" cy="1024" r="8.2"/><circle cx="1101" cy="1031.7" r="8.2"/><circle cx="1128.5" cy="1037" r="8.2"/><circle cx="1114" cy="1039.6" r="8.2"/><circle cx="1146.8" cy="1051.4" r="8.2"/><circle cx="1128.5" cy="1058" r="8.2"/><circle cx="1128.5" cy="1088" r="8.2"/><circle cx="1116.7" cy="1113" r="8.2"/><circle cx="1140.3" cy="1106.4" r="8.2"/><circle cx="1128.5" cy="1120.8" r="8.2"/><circle cx="1128.5" cy="1132.6" r="8.2"/><circle cx="1119.3" cy="1162.7" r="8.2"/><circle cx="1128.5" cy="1158.8" r="8.2"/><circle cx="1139" cy="1182.4" r="8.2"/><circle cx="1128.5" cy="1202" r="8.2"/></g>
<path d="M1213 946.6V1080.7M1213 1121.6V1200.7M1199.5 946.6H1226.5M1199.5 1200.7H1226.5" stroke="#4382BE" stroke-width="6.2" fill="none"/><rect x="1185.3" y="1080.7" width="55.3" height="40.9" stroke="#4382BE" stroke-width="6.2" fill="none" stroke-linejoin="round"/><path d="M1185.3 1098.5H1240.6" stroke="#4382BE" stroke-width="6.2"/><g fill="#4382BE"><circle cx="1213" cy="945.3" r="8.2"/><circle cx="1213" cy="1018.6" r="8.2"/><circle cx="1201.8" cy="1027.8" r="8.2"/><circle cx="1222.8" cy="1041" r="8.2"/><circle cx="1192.7" cy="1076.3" r="8.2"/><circle cx="1232" cy="1076.3" r="8.2"/><circle cx="1203" cy="1082.8" r="8.2"/><circle cx="1221.5" cy="1092" r="8.2"/><circle cx="1192.7" cy="1100" r="8.2"/><circle cx="1230.6" cy="1097" r="8.2"/><circle cx="1203" cy="1107.7" r="8.2"/><circle cx="1213" cy="1115.6" r="8.2"/><circle cx="1222.8" cy="1124.7" r="8.2"/><circle cx="1195.3" cy="1141.8" r="8.2"/><circle cx="1230.6" cy="1141.8" r="8.2"/><circle cx="1213" cy="1162.7" r="8.2"/><circle cx="1213" cy="1200.7" r="8.2"/></g>
<path d="M1122.4 872.5H1215" stroke="#000" stroke-width="7.2"/>
<text x="1170.4" y="866.5" text-anchor="middle" font-size="42" style="font-family:IPAGothic,sans-serif">*</text>
<path d="M1395.5 1408H1395.5V1427" stroke="#000" stroke-width="6.5"/>
<text x="1404.5" y="1483.5" text-anchor="middle" font-size="46.2">Limbic</text>
<path d="M1353.4 956.2V1090M1353.4 1194.2V1294M1339.9 956.2H1366.9M1339.9 1294H1366.9" stroke="#D8601F" stroke-width="6.2" fill="none"/><rect x="1326.3" y="1090" width="55.8" height="104.2" stroke="#D8601F" stroke-width="6.2" fill="none" stroke-linejoin="round"/><path d="M1326.3 1123H1382.1" stroke="#D8601F" stroke-width="6.2"/><g fill="#D8601F"><circle cx="1364" cy="956.2" r="8.2"/><circle cx="1344.3" cy="967.4" r="8.2"/><circle cx="1353.4" cy="1044.5" r="8.2"/><circle cx="1364" cy="1055" r="8.2"/><circle cx="1344.3" cy="1074.8" r="8.2"/><circle cx="1326.2" cy="1086.9" r="8.2"/><circle cx="1373" cy="1085.4" r="8.2"/><circle cx="1335.2" cy="1103.5" r="8.2"/><circle cx="1353.4" cy="1102" r="8.2"/><circle cx="1373" cy="1109.5" r="8.2"/><circle cx="1344.3" cy="1115.6" r="8.2"/><circle cx="1353.4" cy="1124.7" r="8.2"/><circle cx="1373" cy="1142.8" r="8.2"/><circle cx="1335.2" cy="1155" r="8.2"/><circle cx="1350.4" cy="1162.5" r="8.2"/><circle cx="1364" cy="1158" r="8.2"/><circle cx="1341.3" cy="1165.5" r="8.2"/><circle cx="1335.2" cy="1203.3" r="8.2"/><circle cx="1373" cy="1206.3" r="8.2"/><circle cx="1353.4" cy="1223" r="8.2"/><circle cx="1344.3" cy="1236.6" r="8.2"/><circle cx="1364" cy="1254.7" r="8.2"/><circle cx="1353.4" cy="1294" r="8.2"/></g>
<path d="M1438 1053.6V1126.3M1438 1197.2V1247M1424.5 1053.6H1451.5M1424.5 1247H1451.5" stroke="#4382BE" stroke-width="6.2" fill="none"/><rect x="1410.9" y="1126.3" width="55.9" height="70.9" stroke="#4382BE" stroke-width="6.2" fill="none" stroke-linejoin="round"/><path d="M1410.9 1160H1466.8" stroke="#4382BE" stroke-width="6.2"/><g fill="#4382BE"><circle cx="1448.7" cy="1053.6" r="8.2"/><circle cx="1429" cy="1068.7" r="8.2"/><circle cx="1420" cy="1115.6" r="8.2"/><circle cx="1456.2" cy="1114" r="8.2"/><circle cx="1438" cy="1126" r="8.2"/><circle cx="1420" cy="1135" r="8.2"/><circle cx="1447" cy="1136.8" r="8.2"/><circle cx="1429" cy="1146" r="8.2"/><circle cx="1456.2" cy="1153.4" r="8.2"/><circle cx="1438" cy="1155" r="8.2"/><circle cx="1429" cy="1168.5" r="8.2"/><circle cx="1447" cy="1168.5" r="8.2"/><circle cx="1447" cy="1180.6" r="8.2"/><circle cx="1420" cy="1189.7" r="8.2"/><circle cx="1429" cy="1203.3" r="8.2"/><circle cx="1447" cy="1220" r="8.2"/><circle cx="1459.3" cy="1229" r="8.2"/><circle cx="1418.4" cy="1233.6" r="8.2"/><circle cx="1444" cy="1241" r="8.2"/><circle cx="1429" cy="1245.7" r="8.2"/></g>
<path d="M1351.9 907H1445.7" stroke="#000" stroke-width="7.2"/>
<text x="1397.3" y="898.2" text-anchor="middle" font-size="42" style="font-family:IPAGothic,sans-serif">*</text>
<path d="M1621 1408H1621V1427" stroke="#000" stroke-width="6.5"/>
<text x="1619.75" y="1483.5" text-anchor="middle" font-size="46.2">Cont</text>
<path d="M1579.9 893.3V979.5M1579.9 1090.8V1178.1M1566.4 893.3H1593.4M1566.4 1178.1H1593.4" stroke="#D8601F" stroke-width="6.2" fill="none"/><rect x="1551.9" y="979.5" width="55.2" height="111.3" stroke="#D8601F" stroke-width="6.2" fill="none" stroke-linejoin="round"/><path d="M1551.9 1029.6H1607.1" stroke="#D8601F" stroke-width="6.2"/><g fill="#D8601F"><circle cx="1568.8" cy="894.4" r="8.2"/><circle cx="1589.9" cy="902" r="8.2"/><circle cx="1579.9" cy="943" r="8.2"/><circle cx="1597.6" cy="955.3" r="8.2"/><circle cx="1561" cy="965.3" r="8.2"/><circle cx="1579.9" cy="975.3" r="8.2"/><circle cx="1601" cy="988.6" r="8.2"/><circle cx="1561" cy="998.6" r="8.2"/><circle cx="1570" cy="1007.4" r="8.2"/><circle cx="1586.5" cy="998.6" r="8.2"/><circle cx="1589.9" cy="1023" r="8.2"/><circle cx="1561" cy="1034" r="8.2"/><circle cx="1597.6" cy="1038.5" r="8.2"/><circle cx="1579.9" cy="1048.5" r="8.2"/><circle cx="1561" cy="1072.8" r="8.2"/><circle cx="1579.9" cy="1072.8" r="8.2"/><circle cx="1597.6" cy="1066.2" r="8.2"/><circle cx="1589.9" cy="1098.3" r="8.2"/><circle cx="1568.8" cy="1106" r="8.2"/><circle cx="1561" cy="1122.7" r="8.2"/><circle cx="1597.6" cy="1120.5" r="8.2"/><circle cx="1579.9" cy="1132.7" r="8.2"/><circle cx="1579.9" cy="1178.1" r="8.2"/></g>
<path d="M1664.1 949.8V1021.6M1664.1 1094.1V1146M1650.6 949.8H1677.6M1650.6 1146H1677.6" stroke="#4382BE" stroke-width="6.2" fill="none"/><rect x="1635.5" y="1021.6" width="55.9" height="72.5" stroke="#4382BE" stroke-width="6.2" fill="none" stroke-linejoin="round"/><path d="M1635.5 1065H1691.4" stroke="#4382BE" stroke-width="6.2"/><g fill="#4382BE"><circle cx="1645.3" cy="949.8" r="8.2"/><circle cx="1683" cy="954.2" r="8.2"/><circle cx="1664.1" cy="957.6" r="8.2"/><circle cx="1664.1" cy="1001.9" r="8.2"/><circle cx="1644.2" cy="1016.3" r="8.2"/><circle cx="1685.2" cy="1011.9" r="8.2"/><circle cx="1656.4" cy="1031.8" r="8.2"/><circle cx="1671.9" cy="1028.5" r="8.2"/><circle cx="1644.2" cy="1039.6" r="8.2"/><circle cx="1656.4" cy="1049.6" r="8.2"/><circle cx="1685.2" cy="1046.2" r="8.2"/><circle cx="1671.9" cy="1058.4" r="8.2"/><circle cx="1644.2" cy="1070.6" r="8.2"/><circle cx="1663" cy="1079.5" r="8.2"/><circle cx="1683" cy="1078.4" r="8.2"/><circle cx="1647.5" cy="1088.4" r="8.2"/><circle cx="1656.4" cy="1100.5" r="8.2"/><circle cx="1669.7" cy="1101.7" r="8.2"/><circle cx="1664.1" cy="1107.2" r="8.2"/><circle cx="1674.1" cy="1134.9" r="8.2"/><circle cx="1653" cy="1144.9" r="8.2"/></g>
<path d="M1846.5 1408H1846.5V1427" stroke="#000" stroke-width="6.5"/>
<text x="1853.5" y="1483.5" text-anchor="middle" font-size="46.2">Default</text>
<path d="M1805.8 869V987.8M1805.8 1097.3V1183.6M1792.3 869H1819.3M1792.3 1183.6H1819.3" stroke="#D8601F" stroke-width="6.2" fill="none"/><rect x="1777.9" y="987.8" width="55.3" height="109.5" stroke="#D8601F" stroke-width="6.2" fill="none" stroke-linejoin="round"/><path d="M1777.9 1062.3H1833.2" stroke="#D8601F" stroke-width="6.2"/><g fill="#D8601F"><circle cx="1805.8" cy="867.6" r="8.2"/><circle cx="1805.8" cy="893" r="8.2"/><circle cx="1814.3" cy="910" r="8.2"/><circle cx="1796" cy="924" r="8.2"/><circle cx="1805.8" cy="963.5" r="8.2"/><circle cx="1805.8" cy="983.3" r="8.2"/><circle cx="1783.2" cy="991.8" r="8.2"/><circle cx="1798.7" cy="1001.6" r="8.2"/><circle cx="1812.8" cy="1007.3" r="8.2"/><circle cx="1825.5" cy="1000.2" r="8.2"/><circle cx="1805.8" cy="1046.8" r="8.2"/><circle cx="1783.2" cy="1058" r="8.2"/><circle cx="1797.3" cy="1070.7" r="8.2"/><circle cx="1812.8" cy="1076.4" r="8.2"/><circle cx="1825.5" cy="1080.6" r="8.2"/><circle cx="1783.2" cy="1089" r="8.2"/><circle cx="1797.3" cy="1099" r="8.2"/><circle cx="1812.8" cy="1096" r="8.2"/><circle cx="1787.4" cy="1144" r="8.2"/><circle cx="1805.8" cy="1148.4" r="8.2"/><circle cx="1824.1" cy="1144" r="8.2"/><circle cx="1796" cy="1186.4" r="8.2"/><circle cx="1815.7" cy="1183.6" r="8.2"/></g>
<path d="M1889.9 957.9V1035.8M1889.9 1117V1168.1M1876.4 957.9H1903.4M1876.4 1168.1H1903.4" stroke="#4382BE" stroke-width="6.2" fill="none"/><rect x="1861.9" y="1035.8" width="55" height="81.2" stroke="#4382BE" stroke-width="6.2" fill="none" stroke-linejoin="round"/><path d="M1861.9 1072H1916.9" stroke="#4382BE" stroke-width="6.2"/><g fill="#4382BE"><circle cx="1889.9" cy="957.9" r="8.2"/><circle cx="1870.7" cy="993.2" r="8.2"/><circle cx="1889.9" cy="1005.9" r="8.2"/><circle cx="1907.4" cy="1003" r="8.2"/><circle cx="1907.4" cy="1022.8" r="8.2"/><circle cx="1870.7" cy="1029.8" r="8.2"/><circle cx="1889.9" cy="1041.1" r="8.2"/><circle cx="1908.8" cy="1051" r="8.2"/><circle cx="1879.2" cy="1056.6" r="8.2"/><circle cx="1896.1" cy="1059.5" r="8.2"/><circle cx="1870.7" cy="1069.3" r="8.2"/><circle cx="1908.8" cy="1066.5" r="8.2"/><circle cx="1889.9" cy="1077.8" r="8.2"/><circle cx="1870.7" cy="1087.7" r="8.2"/><circle cx="1896.1" cy="1086.3" r="8.2"/><circle cx="1908.8" cy="1094.7" r="8.2"/><circle cx="1889.9" cy="1110.3" r="8.2"/><circle cx="1879.2" cy="1125.8" r="8.2"/><circle cx="1901.7" cy="1131.4" r="8.2"/><circle cx="1869.3" cy="1154" r="8.2"/><circle cx="1910.2" cy="1149.8" r="8.2"/><circle cx="1884.8" cy="1168.1" r="8.2"/><circle cx="1896.1" cy="1162.5" r="8.2"/></g>
<path d="M1803 834.2H1896" stroke="#000" stroke-width="7.2"/>
<text x="1848" y="829.5" text-anchor="middle" font-size="42" style="font-family:IPAGothic,sans-serif">*</text>
<text transform="translate(54.3 1038) rotate(-90)" text-anchor="middle" font-size="47">MSD</text>
<rect x="1390.3" y="698.3" width="73.4" height="24.4" rx="2" fill="none" stroke="#D8601F" stroke-width="6.6"/>
<text x="1479" y="724" font-size="37">SZ0W</text>
<rect x="1656.3" y="698.3" width="73.4" height="24.4" rx="2" fill="none" stroke="#4382BE" stroke-width="6.6"/>
<text x="1747" y="724" font-size="37">SZ12W</text>
<text x="2" y="678" font-size="64">B</text>
</svg>
</body></html>
